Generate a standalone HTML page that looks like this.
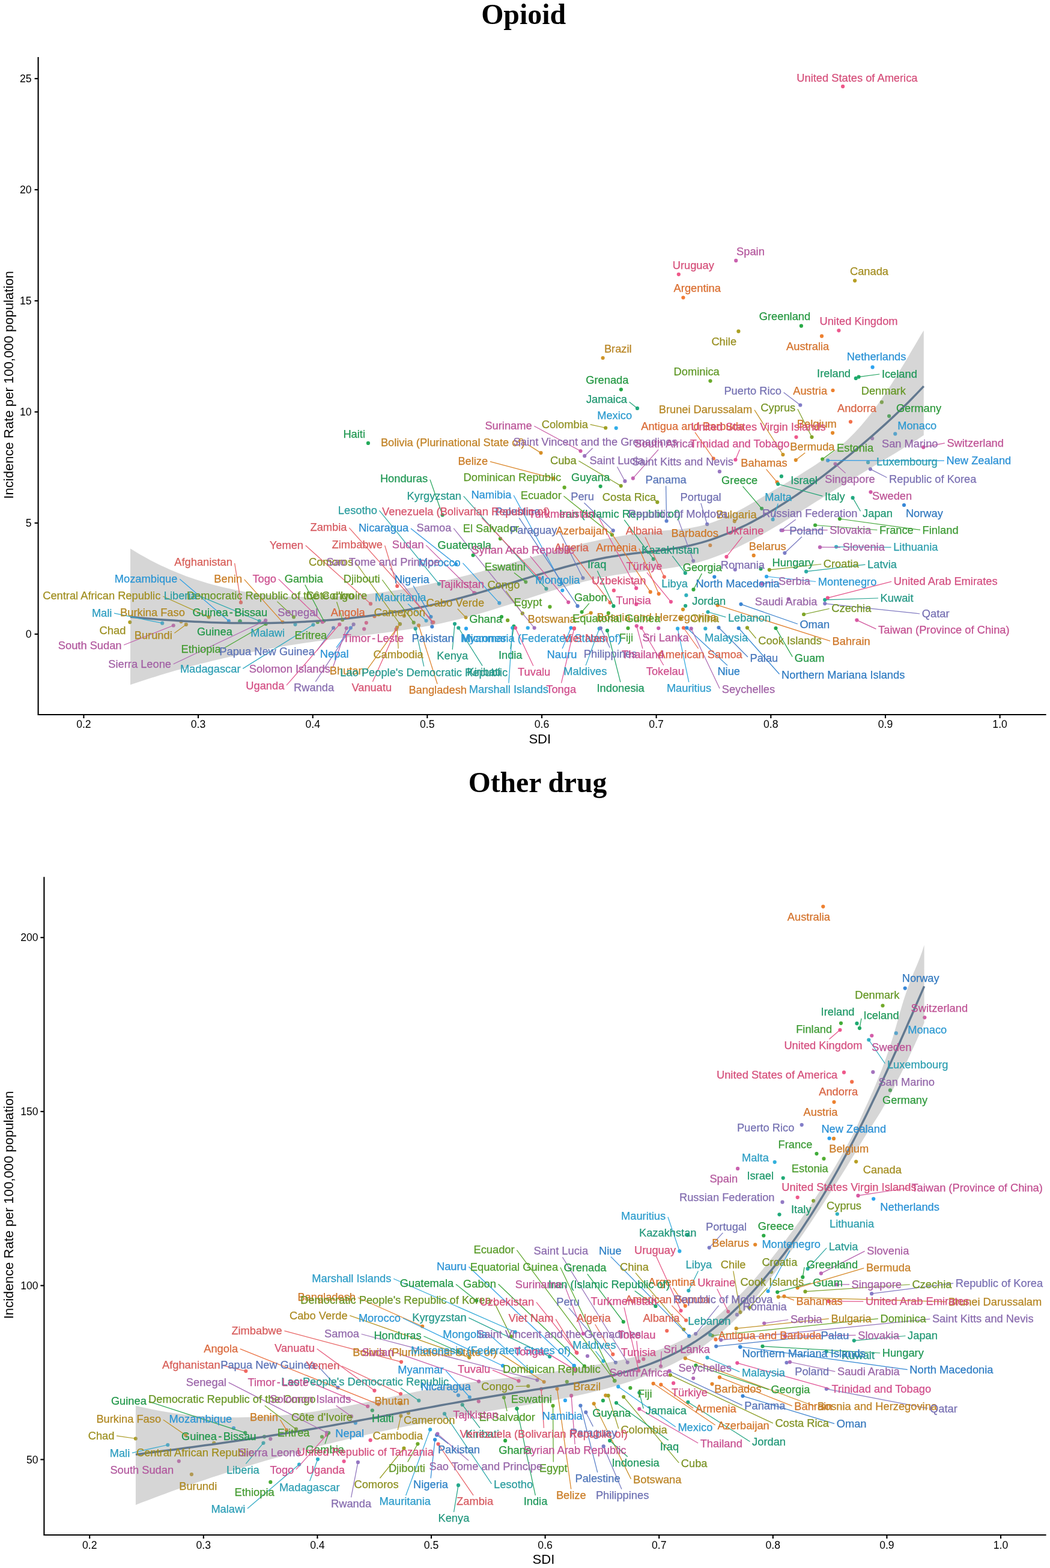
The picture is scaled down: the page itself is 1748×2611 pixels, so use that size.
<!DOCTYPE html>
<html lang="en"><head><meta charset="utf-8"><title>Opioid and other drug incidence vs SDI</title>
<style>html,body{margin:0;padding:0;background:#fff}body{width:1748px;height:2611px;overflow:hidden}svg{display:block;font-family:"Liberation Sans",sans-serif}</style></head><body>
<svg width="1748" height="2611" viewBox="0 0 1748 2611">
<rect width="1748" height="2611" fill="#fff"/>
<g>
<g><circle cx="401.0" cy="1003.2" r="3.1" fill="#f26962"/>
<circle cx="1105.8" cy="960.6" r="3.1" fill="#f26b5c"/>
<circle cx="1015.6" cy="1003.3" r="3.1" fill="#f36d56"/>
<circle cx="1138.0" cy="1045.5" r="3.1" fill="#f36e51"/>
<circle cx="1416.0" cy="702.3" r="3.1" fill="#f3704b"/>
<circle cx="623.4" cy="1026.2" r="3.1" fill="#f47443"/>
<circle cx="1187.7" cy="763.5" r="3.1" fill="#f4773a"/>
<circle cx="1137.4" cy="495.5" r="3.1" fill="#f47b34"/>
<circle cx="1096.7" cy="988.8" r="3.1" fill="#f17d32"/>
<circle cx="1368.0" cy="559.7" r="3.1" fill="#ee8030"/>
<circle cx="1386.5" cy="650.0" r="3.1" fill="#ed812f"/>
<circle cx="1082.7" cy="985.7" r="3.1" fill="#ec822e"/>
<circle cx="1293.6" cy="802.8" r="3.1" fill="#ea832e"/>
<circle cx="1194.6" cy="1007.7" r="3.1" fill="#e9852d"/>
<circle cx="697.0" cy="1041.3" r="3.1" fill="#e8862c"/>
<circle cx="1182.3" cy="908.0" r="3.1" fill="#e6872b"/>
<circle cx="1254.7" cy="924.9" r="3.1" fill="#e5882b"/>
<circle cx="1386.1" cy="720.8" r="3.1" fill="#e4892a"/>
<circle cx="921.6" cy="796.6" r="3.1" fill="#e38b29"/>
<circle cx="470.5" cy="1036.1" r="3.1" fill="#e18c28"/>
<circle cx="1324.8" cy="766.1" r="3.1" fill="#df8d28"/>
<circle cx="665.8" cy="1039.1" r="3.1" fill="#db8f28"/>
<circle cx="900.5" cy="754.1" r="3.1" fill="#d89028"/>
<circle cx="1137.0" cy="1014.8" r="3.1" fill="#d59228"/>
<circle cx="983.7" cy="1020.5" r="3.1" fill="#d29428"/>
<circle cx="1003.6" cy="596.0" r="3.1" fill="#cf9528"/>
<circle cx="1303.4" cy="757.0" r="3.1" fill="#cc9728"/>
<circle cx="1222.8" cy="868.1" r="3.1" fill="#c99827"/>
<circle cx="301.5" cy="1035.1" r="3.1" fill="#c69927"/>
<circle cx="309.8" cy="1039.9" r="3.1" fill="#c39a26"/>
<circle cx="775.5" cy="1028.1" r="3.1" fill="#c09b25"/>
<circle cx="661.0" cy="1044.8" r="3.1" fill="#bd9c25"/>
<circle cx="672.8" cy="1025.5" r="3.1" fill="#ba9e24"/>
<circle cx="1423.1" cy="467.3" r="3.1" fill="#b79f24"/>
<circle cx="347.6" cy="1027.4" r="3.1" fill="#b4a023"/>
<circle cx="216.3" cy="1036.1" r="3.1" fill="#b0a023"/>
<circle cx="1229.4" cy="551.7" r="3.1" fill="#aba124"/>
<circle cx="1132.9" cy="1029.5" r="3.1" fill="#a7a124"/>
<circle cx="1008.2" cy="712.5" r="3.1" fill="#a2a225"/>
<circle cx="665.8" cy="1039.2" r="3.1" fill="#9ea225"/>
<circle cx="869.8" cy="1021.4" r="3.1" fill="#9aa326"/>
<circle cx="1244.0" cy="1045.3" r="3.1" fill="#95a326"/>
<circle cx="1094.3" cy="836.2" r="3.1" fill="#91a427"/>
<circle cx="1280.8" cy="948.8" r="3.1" fill="#8ca427"/>
<circle cx="1033.7" cy="809.1" r="3.1" fill="#88a427"/>
<circle cx="1351.5" cy="727.8" r="3.1" fill="#83a528"/>
<circle cx="1338.1" cy="1023.0" r="3.1" fill="#80a628"/>
<circle cx="570.1" cy="1031.9" r="3.1" fill="#7ca629"/>
<circle cx="489.0" cy="1027.4" r="3.1" fill="#75a82a"/>
<circle cx="1467.9" cy="669.7" r="3.1" fill="#72a92a"/>
<circle cx="688.7" cy="1036.7" r="3.1" fill="#6eaa2a"/>
<circle cx="1182.5" cy="634.3" r="3.1" fill="#6aab2b"/>
<circle cx="939.6" cy="811.7" r="3.1" fill="#67ac2b"/>
<circle cx="1018.9" cy="890.6" r="3.1" fill="#63ad2c"/>
<circle cx="915.4" cy="1010.4" r="3.1" fill="#60ae2c"/>
<circle cx="832.9" cy="897.0" r="3.1" fill="#5cae2d"/>
<circle cx="1012.8" cy="1020.9" r="3.1" fill="#59af2e"/>
<circle cx="528.8" cy="1036.0" r="3.1" fill="#55af2f"/>
<circle cx="1369.2" cy="764.5" r="3.1" fill="#52ae31"/>
<circle cx="875.3" cy="969.1" r="3.1" fill="#4eae33"/>
<circle cx="442.6" cy="1039.0" r="3.1" fill="#4bad35"/>
<circle cx="1045.5" cy="1046.1" r="3.1" fill="#47ad36"/>
<circle cx="1397.9" cy="864.0" r="3.1" fill="#44ad38"/>
<circle cx="1357.1" cy="874.5" r="3.1" fill="#40ac3a"/>
<circle cx="968.6" cy="1019.0" r="3.1" fill="#3dac3c"/>
<circle cx="539.2" cy="1034.0" r="3.1" fill="#39ac3d"/>
<circle cx="1154.5" cy="981.7" r="3.1" fill="#36ab3f"/>
<circle cx="1480.1" cy="692.8" r="3.1" fill="#32ab41"/>
<circle cx="835.0" cy="1027.0" r="3.1" fill="#2eab43"/>
<circle cx="1268.1" cy="846.8" r="3.1" fill="#2baa45"/>
<circle cx="1333.9" cy="542.7" r="3.1" fill="#28aa46"/>
<circle cx="1033.9" cy="648.6" r="3.1" fill="#27aa49"/>
<circle cx="1291.5" cy="1046.0" r="3.1" fill="#26aa4c"/>
<circle cx="787.6" cy="924.5" r="3.1" fill="#26aa4f"/>
<circle cx="399.5" cy="1034.3" r="3.1" fill="#25aa52"/>
<circle cx="399.5" cy="1034.3" r="3.1" fill="#24aa55"/>
<circle cx="999.6" cy="809.8" r="3.1" fill="#24aa57"/>
<circle cx="612.9" cy="737.9" r="3.1" fill="#23aa5a"/>
<circle cx="736.6" cy="857.5" r="3.1" fill="#22aa5d"/>
<circle cx="1266.5" cy="947.2" r="3.1" fill="#22aa60"/>
<circle cx="1429.6" cy="627.6" r="3.1" fill="#21aa63"/>
<circle cx="855.4" cy="1042.9" r="3.1" fill="#20aa66"/>
<circle cx="1011.0" cy="1049.9" r="3.1" fill="#1faa68"/>
<circle cx="1087.8" cy="930.9" r="3.1" fill="#1faa6b"/>
<circle cx="1021.4" cy="1009.2" r="3.1" fill="#1eaa6e"/>
<circle cx="1424.8" cy="629.9" r="3.1" fill="#1faa72"/>
<circle cx="1300.9" cy="793.2" r="3.1" fill="#20aa76"/>
<circle cx="1295.2" cy="806.0" r="3.1" fill="#21aa7a"/>
<circle cx="1061.0" cy="679.9" r="3.1" fill="#22aa7e"/>
<circle cx="1419.6" cy="828.9" r="3.1" fill="#23aa82"/>
<circle cx="1141.1" cy="1008.8" r="3.1" fill="#24aa86"/>
<circle cx="1140.8" cy="954.2" r="3.1" fill="#25aa89"/>
<circle cx="757.0" cy="1038.8" r="3.1" fill="#26aa8d"/>
<circle cx="763.3" cy="1045.5" r="3.1" fill="#27aa91"/>
<circle cx="1373.2" cy="998.8" r="3.1" fill="#28aa95"/>
<circle cx="909.4" cy="980.4" r="3.1" fill="#29ab9b"/>
<circle cx="691.6" cy="1046.7" r="3.1" fill="#2aaca0"/>
<circle cx="1342.1" cy="951.7" r="3.1" fill="#2cada6"/>
<circle cx="1178.5" cy="1019.0" r="3.1" fill="#2daeac"/>
<circle cx="730.8" cy="972.3" r="3.1" fill="#2eafb1"/>
<circle cx="431.8" cy="1034.0" r="3.1" fill="#2fb0b7"/>
<circle cx="1142.4" cy="991.2" r="3.1" fill="#31b1bd"/>
<circle cx="1392.1" cy="910.5" r="3.1" fill="#32b2c2"/>
<circle cx="1445.1" cy="769.9" r="3.1" fill="#32b2c6"/>
<circle cx="521.4" cy="1040.3" r="3.1" fill="#32b1ca"/>
<circle cx="491.5" cy="1039.8" r="3.1" fill="#32b1cd"/>
<circle cx="1174.3" cy="1046.7" r="3.1" fill="#32b1d1"/>
<circle cx="997.7" cy="1046.7" r="3.1" fill="#32b1d5"/>
<circle cx="270.2" cy="1037.7" r="3.1" fill="#32b0d8"/>
<circle cx="1286.6" cy="864.9" r="3.1" fill="#32b0dc"/>
<circle cx="853.2" cy="1045.5" r="3.1" fill="#32b0e0"/>
<circle cx="709.5" cy="1033.5" r="3.1" fill="#32afe3"/>
<circle cx="1128.1" cy="1046.7" r="3.1" fill="#32afe7"/>
<circle cx="1025.7" cy="712.8" r="3.1" fill="#32aee9"/>
<circle cx="878.7" cy="1045.5" r="3.1" fill="#31adea"/>
<circle cx="1490.3" cy="722.4" r="3.1" fill="#31aceb"/>
<circle cx="936.3" cy="983.1" r="3.1" fill="#31aaec"/>
<circle cx="1276.1" cy="960.0" r="3.1" fill="#30a9ed"/>
<circle cx="831.3" cy="1004.2" r="3.1" fill="#30a8ee"/>
<circle cx="380.8" cy="1034.0" r="3.1" fill="#30a7ee"/>
<circle cx="776.0" cy="1046.7" r="3.1" fill="#2fa6ef"/>
<circle cx="934.6" cy="971.2" r="3.1" fill="#2fa5ef"/>
<circle cx="950.5" cy="1045.5" r="3.1" fill="#2ea4ef"/>
<circle cx="583.8" cy="1045.5" r="3.1" fill="#2ea4ef"/>
<circle cx="1452.6" cy="611.4" r="3.1" fill="#2da3f0"/>
<circle cx="1378.1" cy="766.7" r="3.1" fill="#2da1ef"/>
<circle cx="758.9" cy="939.4" r="3.1" fill="#2f9be9"/>
<circle cx="717.4" cy="1027.1" r="3.1" fill="#3191e0"/>
<circle cx="1143.4" cy="1045.5" r="3.1" fill="#318fde"/>
<circle cx="1189.3" cy="960.6" r="3.1" fill="#328cdc"/>
<circle cx="1229.7" cy="1046.0" r="3.1" fill="#358ad9"/>
<circle cx="1505.0" cy="841.0" r="3.1" fill="#3888d7"/>
<circle cx="1233.5" cy="1006.1" r="3.1" fill="#3b86d5"/>
<circle cx="719.3" cy="1043.5" r="3.1" fill="#4384d3"/>
<circle cx="1196.5" cy="1045.0" r="3.1" fill="#4e84d1"/>
<circle cx="961.5" cy="1009.2" r="3.1" fill="#5883cf"/>
<circle cx="1109.6" cy="867.5" r="3.1" fill="#6182ce"/>
<circle cx="555.1" cy="1045.5" r="3.1" fill="#6781cc"/>
<circle cx="970.4" cy="962.5" r="3.1" fill="#6d80cb"/>
<circle cx="1020.7" cy="883.4" r="3.1" fill="#747fc9"/>
<circle cx="999.9" cy="1046.1" r="3.1" fill="#797ec8"/>
<circle cx="1306.4" cy="920.8" r="3.1" fill="#7c7ec8"/>
<circle cx="1177.2" cy="872.9" r="3.1" fill="#7f7ec8"/>
<circle cx="1332.3" cy="674.5" r="3.1" fill="#827dc8"/>
<circle cx="1373.2" cy="1005.1" r="3.1" fill="#857dc8"/>
<circle cx="1448.9" cy="781.1" r="3.1" fill="#887dc8"/>
<circle cx="1154.2" cy="934.1" r="3.1" fill="#8b7cc7"/>
<circle cx="1223.8" cy="948.5" r="3.1" fill="#8e7bc6"/>
<circle cx="1300.6" cy="883.1" r="3.1" fill="#9279c4"/>
<circle cx="588.6" cy="1039.7" r="3.1" fill="#9578c3"/>
<circle cx="1197.9" cy="785.2" r="3.1" fill="#9877c2"/>
<circle cx="1040.4" cy="801.2" r="3.1" fill="#9c76c1"/>
<circle cx="973.2" cy="759.2" r="3.1" fill="#9f75c0"/>
<circle cx="889.6" cy="1045.6" r="3.1" fill="#a274bf"/>
<circle cx="1452.1" cy="730.1" r="3.1" fill="#a573be"/>
<circle cx="719.7" cy="1036.7" r="3.1" fill="#a871bd"/>
<circle cx="1312.6" cy="997.5" r="3.1" fill="#ab70bc"/>
<circle cx="536.6" cy="1035.6" r="3.1" fill="#ad6fbb"/>
<circle cx="1268.7" cy="972.4" r="3.1" fill="#b06dba"/>
<circle cx="1150.7" cy="1046.7" r="3.1" fill="#b36cb9"/>
<circle cx="442.1" cy="1033.2" r="3.1" fill="#b56bb9"/>
<circle cx="1390.5" cy="772.5" r="3.1" fill="#b86ab8"/>
<circle cx="1302.8" cy="883.1" r="3.1" fill="#bb68b7"/>
<circle cx="1365.0" cy="911.2" r="3.1" fill="#bd67b6"/>
<circle cx="576.8" cy="1046.1" r="3.1" fill="#c066b5"/>
<circle cx="1053.8" cy="796.4" r="3.1" fill="#c563b3"/>
<circle cx="288.7" cy="1041.5" r="3.1" fill="#c762b1"/>
<circle cx="1225.2" cy="433.9" r="3.1" fill="#ca61af"/>
<circle cx="1096.2" cy="1046.1" r="3.1" fill="#cc5fad"/>
<circle cx="789.3" cy="987.1" r="3.1" fill="#ce5eab"/>
<circle cx="966.5" cy="751.0" r="3.1" fill="#d15daa"/>
<circle cx="1449.5" cy="819.3" r="3.1" fill="#d35ca8"/>
<circle cx="1537.2" cy="744.7" r="3.1" fill="#d55ba6"/>
<circle cx="946.2" cy="1002.8" r="3.1" fill="#d85aa5"/>
<circle cx="1426.4" cy="1032.6" r="3.1" fill="#da59a3"/>
<circle cx="790.8" cy="987.9" r="3.1" fill="#dc59a2"/>
<circle cx="1059.8" cy="1042.3" r="3.1" fill="#df58a1"/>
<circle cx="606.2" cy="1047.4" r="3.1" fill="#e157a0"/>
<circle cx="537.1" cy="1035.4" r="3.1" fill="#e4579f"/>
<circle cx="1067.8" cy="1045.5" r="3.1" fill="#e6569e"/>
<circle cx="955.9" cy="1046.4" r="3.1" fill="#e8569c"/>
<circle cx="1224.4" cy="765.5" r="3.1" fill="#eb559b"/>
<circle cx="1059.2" cy="1006.2" r="3.1" fill="#eb559a"/>
<circle cx="1059.2" cy="979.4" r="3.1" fill="#ec5698"/>
<circle cx="858.0" cy="1045.5" r="3.1" fill="#ec5696"/>
<circle cx="1116.9" cy="1002.1" r="3.1" fill="#ec5695"/>
<circle cx="565.3" cy="1039.7" r="3.1" fill="#ed5793"/>
<circle cx="1209.4" cy="927.1" r="3.1" fill="#ed5791"/>
<circle cx="1377.9" cy="995.6" r="3.1" fill="#ee5890"/>
<circle cx="1396.4" cy="550.3" r="3.1" fill="#ee588e"/>
<circle cx="1325.5" cy="727.8" r="3.1" fill="#ef588b"/>
<circle cx="1403.1" cy="143.9" r="3.1" fill="#ef588a"/>
<circle cx="1129.8" cy="456.8" r="3.1" fill="#f05888"/>
<circle cx="1021.9" cy="983.2" r="3.1" fill="#f05985"/>
<circle cx="659.7" cy="1047.7" r="3.1" fill="#f05b7f"/>
<circle cx="897.9" cy="963.2" r="3.1" fill="#f05d79"/>
<circle cx="955.9" cy="1046.4" r="3.1" fill="#f05f73"/>
<circle cx="617.0" cy="1005.4" r="3.1" fill="#f0616f"/>
<circle cx="721.4" cy="1036.2" r="3.1" fill="#f1646b"/>
<circle cx="661.2" cy="976.0" r="3.1" fill="#f16666"/>
<circle cx="845.1" cy="1032.9" r="3.1" fill="#79a729"/>
<circle cx="609.8" cy="1037.1" r="3.1" fill="#ee588d"/></g>
<polygon points="217.0,913.5 225.2,918.6 233.4,923.4 241.8,928.1 250.1,932.7 258.5,937.0 267.0,941.2 275.5,945.1 284.1,948.9 292.7,952.6 301.3,956.1 310.0,959.4 318.8,962.5 327.5,965.5 336.4,968.3 345.2,971.0 354.1,973.5 363.0,975.8 372.0,978.0 381.0,980.1 390.0,982.0 399.1,983.7 408.1,985.4 417.2,986.8 426.4,988.2 435.5,989.4 444.7,990.4 453.9,991.4 463.1,992.2 472.4,992.9 481.6,993.4 490.9,993.8 500.2,994.1 509.5,994.3 518.8,994.4 528.1,994.4 537.5,994.2 546.8,993.9 556.1,993.6 565.5,993.1 574.8,992.5 584.2,991.8 593.5,991.0 602.9,990.1 612.2,989.2 621.6,988.1 630.9,986.9 640.2,985.7 649.6,984.3 658.9,982.9 668.2,981.4 677.5,979.8 686.8,978.2 696.0,976.4 705.3,974.6 714.5,972.7 723.7,970.7 732.9,968.7 742.0,966.6 751.2,964.5 760.3,962.3 769.4,960.0 778.4,957.7 787.5,955.3 796.5,952.9 805.5,950.4 814.5,947.9 823.5,945.4 832.4,942.9 841.4,940.3 850.3,937.8 859.3,935.2 868.2,932.6 877.2,930.1 886.1,927.5 895.0,925.0 904.0,922.5 912.9,920.0 921.9,917.6 930.9,915.2 939.9,912.8 948.9,910.5 957.9,908.3 967.0,906.1 976.1,904.0 985.2,901.9 994.3,899.9 1003.5,898.0 1012.6,896.2 1021.9,894.5 1031.1,892.9 1040.4,891.4 1049.7,890.0 1059.1,888.7 1068.4,887.5 1077.8,886.4 1087.1,885.4 1096.4,884.4 1105.7,883.6 1115.0,882.8 1124.2,882.1 1133.4,881.2 1142.5,880.1 1151.6,878.7 1160.5,877.0 1169.5,874.9 1178.3,872.4 1187.0,869.4 1195.7,866.2 1204.3,862.6 1212.9,858.7 1221.4,854.6 1229.8,850.2 1238.2,845.7 1246.5,841.1 1254.8,836.3 1263.1,831.5 1271.3,826.6 1279.5,821.7 1287.6,816.8 1295.7,812.0 1303.8,807.2 1311.8,802.4 1319.8,797.7 1327.7,792.9 1335.6,788.0 1343.4,783.1 1351.1,778.2 1358.8,773.2 1366.3,768.0 1373.7,762.7 1381.1,757.3 1388.3,751.8 1395.4,746.0 1402.3,740.1 1409.1,734.0 1415.8,727.6 1422.3,721.0 1428.6,714.2 1434.8,707.2 1440.9,700.0 1446.8,692.7 1452.6,685.2 1458.3,677.5 1463.9,669.8 1469.3,661.9 1474.7,654.0 1480.0,646.0 1485.1,637.9 1490.2,629.8 1495.2,621.7 1500.2,613.6 1505.1,605.5 1509.9,597.4 1514.6,589.3 1519.3,581.3 1524.0,573.4 1528.6,565.6 1533.2,557.8 1537.8,550.2 1537.8,724.7 1530.2,729.7 1522.5,734.6 1514.9,739.4 1507.4,744.1 1499.8,748.8 1492.3,753.4 1484.8,758.0 1477.3,762.5 1469.8,767.0 1462.4,771.5 1454.9,776.0 1447.5,780.4 1440.1,784.9 1432.7,789.4 1425.2,793.9 1417.8,798.4 1410.4,802.9 1403.0,807.5 1395.6,812.2 1388.2,816.8 1380.7,821.5 1373.3,826.2 1365.9,830.9 1358.4,835.6 1350.9,840.3 1343.4,845.0 1335.9,849.7 1328.4,854.4 1320.8,859.0 1313.2,863.7 1305.6,868.3 1298.0,872.9 1290.3,877.5 1282.6,882.0 1274.9,886.5 1267.1,890.9 1259.3,895.2 1251.5,899.4 1243.6,903.6 1235.6,907.6 1227.7,911.5 1219.7,915.3 1211.6,918.9 1203.5,922.3 1195.3,925.6 1187.1,928.6 1178.9,931.5 1170.6,934.1 1162.2,936.5 1153.8,938.6 1145.3,940.5 1136.8,942.2 1128.2,943.8 1119.6,945.2 1111.0,946.4 1102.3,947.6 1093.6,948.6 1084.9,949.7 1076.2,950.7 1067.5,951.7 1058.8,952.7 1050.1,953.8 1041.3,954.9 1032.7,956.2 1024.0,957.5 1015.3,959.1 1006.7,960.7 998.1,962.5 989.5,964.4 980.9,966.4 972.4,968.5 963.9,970.8 955.3,973.1 946.8,975.4 938.3,977.9 929.8,980.4 921.3,983.0 912.9,985.6 904.4,988.3 895.9,991.0 887.5,993.7 879.0,996.4 870.6,999.2 862.1,1001.9 853.7,1004.7 845.2,1007.4 836.8,1010.1 828.3,1012.8 819.9,1015.4 811.4,1018.0 802.9,1020.5 794.4,1023.0 785.9,1025.4 777.4,1027.7 768.9,1030.0 760.3,1032.1 751.8,1034.1 743.2,1036.1 734.6,1037.9 726.0,1039.7 717.4,1041.4 708.8,1043.0 700.2,1044.5 691.5,1046.0 682.9,1047.4 674.2,1048.8 665.5,1050.1 656.9,1051.3 648.2,1052.5 639.5,1053.7 630.8,1054.8 622.1,1056.0 613.3,1057.1 604.6,1058.1 595.9,1059.2 587.2,1060.3 578.4,1061.3 569.7,1062.4 561.0,1063.5 552.2,1064.6 543.5,1065.7 534.7,1066.9 526.0,1068.1 517.3,1069.3 508.5,1070.5 499.8,1071.8 491.1,1073.2 482.3,1074.6 473.6,1076.0 464.9,1077.5 456.2,1079.0 447.5,1080.6 438.8,1082.2 430.1,1083.8 421.4,1085.5 412.7,1087.3 404.1,1089.1 395.4,1090.9 386.8,1092.8 378.1,1094.7 369.5,1096.7 360.9,1098.7 352.3,1100.8 343.7,1102.9 335.1,1105.1 326.6,1107.3 318.0,1109.6 309.5,1111.9 301.0,1114.2 292.5,1116.6 284.1,1119.0 275.6,1121.5 267.2,1124.1 258.8,1126.7 250.4,1129.3 242.0,1132.0 233.6,1134.7 225.3,1137.5 217.0,1140.3" fill="#999999" fill-opacity="0.4"/>
<polyline points="217.0,1027.3 225.9,1028.1 234.8,1028.9 243.8,1029.7 252.7,1030.5 261.6,1031.2 270.6,1031.9 279.5,1032.5 288.5,1033.1 297.4,1033.7 306.4,1034.2 315.3,1034.7 324.3,1035.2 333.2,1035.6 342.2,1036.0 351.1,1036.4 360.1,1036.7 369.0,1036.9 378.0,1037.2 386.9,1037.4 395.9,1037.5 404.8,1037.6 413.8,1037.6 422.7,1037.7 431.7,1037.6 440.6,1037.5 449.6,1037.4 458.5,1037.2 467.4,1037.0 476.4,1036.7 485.3,1036.4 494.2,1036.0 503.1,1035.6 512.1,1035.1 521.0,1034.6 529.9,1034.0 538.8,1033.3 547.7,1032.6 556.6,1031.9 565.5,1031.1 574.4,1030.2 583.2,1029.3 592.1,1028.3 601.0,1027.3 609.8,1026.2 618.7,1025.0 627.5,1023.8 636.3,1022.5 645.2,1021.2 654.0,1019.8 662.8,1018.3 671.6,1016.7 680.4,1015.1 689.2,1013.5 697.9,1011.7 706.7,1009.9 715.5,1008.1 724.2,1006.1 732.9,1004.1 741.6,1002.0 750.4,999.9 759.1,997.6 767.7,995.4 776.4,993.0 785.1,990.6 793.7,988.1 802.4,985.6 811.0,983.0 819.7,980.4 828.3,977.8 836.9,975.2 845.5,972.5 854.2,969.8 862.8,967.2 871.4,964.5 880.0,961.9 888.6,959.2 897.2,956.7 905.9,954.1 914.5,951.6 923.1,949.1 931.7,946.7 940.4,944.3 949.0,942.0 957.7,939.8 966.3,937.6 975.0,935.6 983.7,933.6 992.4,931.7 1001.1,930.0 1009.8,928.3 1018.6,926.8 1027.3,925.4 1036.1,924.1 1044.9,922.9 1053.7,921.8 1062.5,920.8 1071.3,919.8 1080.1,918.8 1088.9,917.7 1097.7,916.7 1106.5,915.5 1115.2,914.3 1124.0,913.0 1132.7,911.5 1141.4,909.8 1150.1,908.0 1158.7,905.9 1167.4,903.6 1175.9,901.1 1184.5,898.4 1193.0,895.4 1201.4,892.2 1209.8,888.9 1218.2,885.3 1226.5,881.6 1234.7,877.7 1242.9,873.7 1251.0,869.6 1259.1,865.3 1267.0,860.9 1274.9,856.4 1282.7,851.9 1290.5,847.2 1298.1,842.5 1305.7,837.7 1313.2,832.9 1320.7,827.9 1328.0,823.0 1335.3,817.9 1342.6,812.8 1349.8,807.7 1357.0,802.4 1364.1,797.2 1371.1,791.8 1378.2,786.4 1385.1,781.0 1392.1,775.5 1399.1,770.0 1406.0,764.4 1412.9,758.8 1419.8,753.1 1426.6,747.4 1433.5,741.6 1440.3,735.8 1447.1,730.0 1453.9,724.1 1460.6,718.1 1467.3,712.1 1474.0,706.1 1480.6,700.0 1487.2,693.9 1493.7,687.7 1500.2,681.5 1506.6,675.2 1513.0,668.9 1519.3,662.5 1525.5,656.1 1531.7,649.6 1537.8,643.1" fill="none" stroke="#62788f" stroke-width="3.5" stroke-linejoin="round"/>
<g stroke-width="1.25" stroke-linecap="butt"><line x1="390.6" y1="937.8" x2="401.0" y2="1003.2" stroke="#e8655e"/>
<line x1="1073.9" y1="894.3" x2="1105.8" y2="960.6" stroke="#e96659"/>
<line x1="954.1" y1="921.7" x2="1015.6" y2="1003.3" stroke="#e96853"/>
<line x1="1162.6" y1="1080.0" x2="1138.0" y2="1045.5" stroke="#e96a4d"/>
<line x1="1157.0" y1="719.9" x2="1187.7" y2="763.5" stroke="#eb7238"/>
<line x1="1064.0" y1="913.5" x2="1096.7" y2="988.8" stroke="#e87830"/>
<line x1="1015.7" y1="884.4" x2="1082.7" y2="985.7" stroke="#e27d2d"/>
<line x1="1275.6" y1="781.4" x2="1293.6" y2="802.8" stroke="#e17e2c"/>
<line x1="1382.0" y1="1067.4" x2="1194.6" y2="1007.7" stroke="#e07f2b"/>
<line x1="728.1" y1="1139.0" x2="697.0" y2="1041.3" stroke="#de802a"/>
<line x1="815.9" y1="768.7" x2="921.6" y2="796.6" stroke="#da8527"/>
<line x1="406.7" y1="964.8" x2="470.5" y2="1036.1" stroke="#d88627"/>
<line x1="1340.2" y1="754.0" x2="1324.8" y2="766.1" stroke="#d68826"/>
<line x1="610.3" y1="1116.2" x2="665.8" y2="1039.1" stroke="#d38926"/>
<line x1="877.6" y1="739.8" x2="900.5" y2="754.1" stroke="#d08b26"/>
<line x1="962.4" y1="1028.7" x2="983.7" y2="1020.5" stroke="#c98e26"/>
<line x1="1256.0" y1="682.7" x2="1303.4" y2="757.0" stroke="#c39126"/>
<line x1="290.4" y1="1054.2" x2="309.8" y2="1039.9" stroke="#bb9424"/>
<line x1="761.7" y1="1013.8" x2="775.5" y2="1028.1" stroke="#b89524"/>
<line x1="663.1" y1="1080.0" x2="661.0" y2="1044.8" stroke="#b59623"/>
<line x1="271.2" y1="993.0" x2="347.6" y2="1027.4" stroke="#ad9a22"/>
<line x1="982.6" y1="706.9" x2="1008.2" y2="712.5" stroke="#9c9b23"/>
<line x1="591.8" y1="936.5" x2="665.8" y2="1039.2" stroke="#989c24"/>
<line x1="842.2" y1="984.1" x2="869.8" y2="1021.4" stroke="#939c24"/>
<line x1="1258.6" y1="1063.0" x2="1244.0" y2="1045.3" stroke="#8f9d25"/>
<line x1="1367.2" y1="939.5" x2="1280.8" y2="948.8" stroke="#879d25"/>
<line x1="963.4" y1="767.5" x2="1033.7" y2="809.1" stroke="#829e26"/>
<line x1="1327.9" y1="681.3" x2="1351.5" y2="727.8" stroke="#7e9e26"/>
<line x1="1380.7" y1="1013.5" x2="1338.1" y2="1023.0" stroke="#7b9f27"/>
<line x1="560.5" y1="1002.3" x2="570.1" y2="1031.9" stroke="#77a027"/>
<line x1="461.4" y1="1001.6" x2="489.0" y2="1027.4" stroke="#70a228"/>
<line x1="636.3" y1="965.5" x2="688.7" y2="1036.7" stroke="#6aa329"/>
<line x1="938.4" y1="826.0" x2="1018.9" y2="890.6" stroke="#5fa62a"/>
<line x1="1389.5" y1="749.6" x2="1369.2" y2="764.5" stroke="#4ea72f"/>
<line x1="855.9" y1="953.8" x2="875.3" y2="969.1" stroke="#4ba731"/>
<line x1="371.2" y1="1080.2" x2="442.6" y2="1039.0" stroke="#48a733"/>
<line x1="1532.0" y1="882.4" x2="1397.9" y2="864.0" stroke="#41a636"/>
<line x1="1460.3" y1="882.5" x2="1357.1" y2="874.5" stroke="#3ea638"/>
<line x1="980.9" y1="1004.7" x2="968.6" y2="1019.0" stroke="#3aa539"/>
<line x1="507.7" y1="973.6" x2="539.2" y2="1034.0" stroke="#37a53b"/>
<line x1="1168.4" y1="954.9" x2="1154.5" y2="981.7" stroke="#33a43d"/>
<line x1="1236.5" y1="809.8" x2="1268.1" y2="846.8" stroke="#29a342"/>
<line x1="1319.2" y1="1093.6" x2="1291.5" y2="1046.0" stroke="#25a349"/>
<line x1="715.9" y1="798.6" x2="736.6" y2="857.5" stroke="#21a359"/>
<line x1="1464.3" y1="623.0" x2="1429.6" y2="627.6" stroke="#20a35f"/>
<line x1="849.8" y1="1080.7" x2="855.4" y2="1042.9" stroke="#1fa361"/>
<line x1="1032.9" y1="1135.8" x2="1011.0" y2="1049.9" stroke="#1ea364"/>
<line x1="1039.2" y1="865.6" x2="1087.8" y2="930.9" stroke="#1da367"/>
<line x1="994.4" y1="950.4" x2="1021.4" y2="1009.2" stroke="#1da36a"/>
<line x1="1369.4" y1="826.2" x2="1295.2" y2="806.0" stroke="#20a375"/>
<line x1="1047.6" y1="669.3" x2="1061.0" y2="679.9" stroke="#21a379"/>
<line x1="1432.5" y1="851.3" x2="1419.6" y2="828.9" stroke="#22a37c"/>
<line x1="1119.2" y1="925.6" x2="1140.8" y2="954.2" stroke="#23a384"/>
<line x1="753.2" y1="1081.6" x2="757.0" y2="1038.8" stroke="#24a388"/>
<line x1="803.1" y1="1108.7" x2="763.3" y2="1045.5" stroke="#25a38b"/>
<line x1="1462.0" y1="996.0" x2="1373.2" y2="998.8" stroke="#26a38f"/>
<line x1="771.7" y1="826.2" x2="909.4" y2="980.4" stroke="#27a494"/>
<line x1="705.7" y1="1109.7" x2="691.6" y2="1046.7" stroke="#29a59a"/>
<line x1="1440.5" y1="940.1" x2="1342.1" y2="951.7" stroke="#2aa69f"/>
<line x1="1208.3" y1="1027.6" x2="1178.5" y2="1019.0" stroke="#2ba7a5"/>
<line x1="631.5" y1="850.2" x2="730.8" y2="972.3" stroke="#2ca8aa"/>
<line x1="331.3" y1="992.1" x2="431.8" y2="1034.0" stroke="#2da9b0"/>
<line x1="1483.6" y1="911.3" x2="1392.1" y2="910.5" stroke="#30abba"/>
<line x1="404.2" y1="1113.4" x2="521.4" y2="1040.3" stroke="#30aac2"/>
<line x1="975.1" y1="1108.1" x2="997.7" y2="1046.7" stroke="#30aacc"/>
<line x1="190.0" y1="1021.2" x2="270.2" y2="1037.7" stroke="#30a9d0"/>
<line x1="1295.3" y1="838.5" x2="1286.6" y2="864.9" stroke="#30a9d3"/>
<line x1="846.9" y1="1137.4" x2="853.2" y2="1045.5" stroke="#30a9d7"/>
<line x1="679.1" y1="1005.5" x2="709.5" y2="1033.5" stroke="#30a8da"/>
<line x1="1146.8" y1="1135.8" x2="1128.1" y2="1046.7" stroke="#30a8de"/>
<line x1="1358.2" y1="968.5" x2="1276.1" y2="960.0" stroke="#2ea2e3"/>
<line x1="770.5" y1="937.7" x2="831.3" y2="1004.2" stroke="#2ea1e4"/>
<line x1="299.2" y1="964.3" x2="380.8" y2="1034.0" stroke="#2ea0e5"/>
<line x1="855.1" y1="824.7" x2="934.6" y2="971.2" stroke="#2d9fe5"/>
<line x1="936.1" y1="1080.0" x2="950.5" y2="1045.5" stroke="#2c9ee6"/>
<line x1="559.9" y1="1078.4" x2="583.8" y2="1045.5" stroke="#2c9de6"/>
<line x1="1571.9" y1="767.1" x2="1378.1" y2="766.7" stroke="#2b9ae5"/>
<line x1="683.9" y1="879.9" x2="758.9" y2="939.4" stroke="#2d94df"/>
<line x1="688.1" y1="975.2" x2="717.4" y2="1027.1" stroke="#2f8cd7"/>
<line x1="1211.0" y1="1108.1" x2="1143.4" y2="1045.5" stroke="#2f89d5"/>
<line x1="1297.5" y1="1122.5" x2="1229.7" y2="1046.0" stroke="#3384d1"/>
<line x1="1327.8" y1="1039.0" x2="1233.5" y2="1006.1" stroke="#3980cc"/>
<line x1="1244.9" y1="1094.0" x2="1196.5" y2="1045.0" stroke="#4a7ec9"/>
<line x1="864.2" y1="862.3" x2="961.5" y2="1009.2" stroke="#547dc7"/>
<line x1="1108.6" y1="809.2" x2="1109.6" y2="867.5" stroke="#5d7dc5"/>
<line x1="527.6" y1="1083.3" x2="555.1" y2="1045.5" stroke="#637cc4"/>
<line x1="931.1" y1="884.2" x2="970.4" y2="962.5" stroke="#697bc2"/>
<line x1="972.4" y1="837.2" x2="1020.7" y2="883.4" stroke="#6f7ac1"/>
<line x1="1015.3" y1="1078.4" x2="999.9" y2="1046.1" stroke="#7479c0"/>
<line x1="1335.0" y1="893.7" x2="1306.4" y2="920.8" stroke="#7779c0"/>
<line x1="1166.8" y1="837.9" x2="1177.2" y2="872.9" stroke="#7a79c0"/>
<line x1="1304.6" y1="653.4" x2="1332.3" y2="674.5" stroke="#7d78c0"/>
<line x1="1531.2" y1="1022.0" x2="1373.2" y2="1005.1" stroke="#7f78c0"/>
<line x1="1476.5" y1="795.2" x2="1448.9" y2="781.1" stroke="#8278c0"/>
<line x1="1129.4" y1="865.6" x2="1154.2" y2="934.1" stroke="#8677bf"/>
<line x1="1324.7" y1="865.0" x2="1300.6" y2="883.1" stroke="#8c75bd"/>
<line x1="525.3" y1="1135.2" x2="588.6" y2="1039.7" stroke="#8f74bc"/>
<line x1="1027.5" y1="777.3" x2="1040.4" y2="801.2" stroke="#9571b9"/>
<line x1="986.6" y1="746.2" x2="973.2" y2="759.2" stroke="#9970b8"/>
<line x1="755.1" y1="879.7" x2="889.6" y2="1045.6" stroke="#9c6fb7"/>
<line x1="649.3" y1="945.8" x2="719.7" y2="1036.7" stroke="#a16db5"/>
<line x1="1292.5" y1="968.2" x2="1268.7" y2="972.4" stroke="#a969b3"/>
<line x1="1198.1" y1="1146.6" x2="1150.7" y2="1046.7" stroke="#ac68b2"/>
<line x1="288.7" y1="1105.7" x2="442.1" y2="1033.2" stroke="#ae67b1"/>
<line x1="1407.6" y1="787.9" x2="1390.5" y2="772.5" stroke="#b165b0"/>
<line x1="1377.7" y1="882.6" x2="1302.8" y2="883.1" stroke="#b364af"/>
<line x1="1399.1" y1="911.3" x2="1365.0" y2="911.2" stroke="#b663af"/>
<line x1="553.6" y1="1112.7" x2="576.8" y2="1046.1" stroke="#b861ae"/>
<line x1="1096.1" y1="748.6" x2="1053.8" y2="796.4" stroke="#bd5fab"/>
<line x1="206.2" y1="1074.0" x2="288.7" y2="1041.5" stroke="#bf5eaa"/>
<line x1="709.2" y1="907.9" x2="789.3" y2="987.1" stroke="#c65ba5"/>
<line x1="889.3" y1="709.5" x2="966.5" y2="751.0" stroke="#c859a3"/>
<line x1="1572.8" y1="737.8" x2="1537.2" y2="744.7" stroke="#cd57a0"/>
<line x1="882.7" y1="926.1" x2="946.2" y2="1002.8" stroke="#cf569e"/>
<line x1="1458.5" y1="1047.4" x2="1426.4" y2="1032.6" stroke="#d1569d"/>
<line x1="1069.9" y1="1080.0" x2="1059.8" y2="1042.3" stroke="#d6559b"/>
<line x1="463.7" y1="964.4" x2="537.1" y2="1035.4" stroke="#da5398"/>
<line x1="1104.7" y1="1107.8" x2="1067.8" y2="1045.5" stroke="#dd5397"/>
<line x1="934.5" y1="1137.4" x2="955.9" y2="1046.4" stroke="#df5296"/>
<line x1="1231.5" y1="748.6" x2="1224.4" y2="765.5" stroke="#e15295"/>
<line x1="993.8" y1="856.2" x2="1059.2" y2="979.4" stroke="#e25292"/>
<line x1="887.8" y1="1108.7" x2="858.0" y2="1045.5" stroke="#e35390"/>
<line x1="1077.0" y1="953.3" x2="1116.9" y2="1002.1" stroke="#e3538f"/>
<line x1="477.0" y1="1141.1" x2="565.3" y2="1039.7" stroke="#e3538d"/>
<line x1="1235.7" y1="893.7" x2="1209.4" y2="927.1" stroke="#e4548c"/>
<line x1="1484.2" y1="968.4" x2="1377.9" y2="995.6" stroke="#e4548a"/>
<line x1="620.4" y1="1135.2" x2="659.7" y2="1047.7" stroke="#e6577a"/>
<line x1="802.1" y1="862.3" x2="897.9" y2="963.2" stroke="#e65974"/>
<line x1="508.7" y1="908.3" x2="617.0" y2="1005.4" stroke="#e75e6a"/>
<line x1="581.2" y1="878.8" x2="721.4" y2="1036.2" stroke="#e76066"/>
<line x1="640.6" y1="908.4" x2="661.2" y2="976.0" stroke="#e86262"/></g>
<g font-size="18.30px" stroke-width="0.25" stroke-linejoin="round"><text x="290.3" y="942.4" fill="#d75d57" stroke="#d75d57">Afghanistan</text>
<text x="1041.7" y="890.2" fill="#d85f52" stroke="#d85f52">Albania</text>
<text x="923.0" y="917.6" fill="#d8614d" stroke="#d8614d">Algeria</text>
<text x="1095.5" y="1096.2" fill="#d86248" stroke="#d86248">American Samoa</text>
<text x="1394.0" y="685.5" fill="#d86443" stroke="#d86443">Andorra</text>
<text x="550.7" y="1026.2" fill="#d9673b" stroke="#d9673b">Angola</text>
<text x="1067.2" y="715.8" fill="#da6a34" stroke="#da6a34">Antigua and Barbuda</text>
<text x="1121.6" y="485.7" fill="#da6d2e" stroke="#da6d2e">Argentina</text>
<text x="992.2" y="918.3" fill="#d76f2c" stroke="#d76f2c">Armenia</text>
<text x="1309.1" y="582.7" fill="#d4722b" stroke="#d4722b">Australia</text>
<text x="1320.2" y="656.7" fill="#d3732a" stroke="#d3732a">Austria</text>
<text x="925.6" y="889.6" fill="#d27429" stroke="#d27429">Azerbaijan</text>
<text x="1233.3" y="777.3" fill="#d07529" stroke="#d07529">Bahamas</text>
<text x="1385.6" y="1073.8" fill="#cf7628" stroke="#cf7628">Bahrain</text>
<text x="680.4" y="1155.2" fill="#ce7727" stroke="#ce7727">Bangladesh</text>
<text x="1117.6" y="894.3" fill="#cd7827" stroke="#cd7827">Barbados</text>
<text x="1246.7" y="915.7" fill="#cc7926" stroke="#cc7926">Belarus</text>
<text x="1326.8" y="712.0" fill="#cb7a25" stroke="#cb7a25">Belgium</text>
<text x="762.4" y="774.3" fill="#ca7b24" stroke="#ca7b24">Belize</text>
<text x="356.3" y="969.8" fill="#c97c24" stroke="#c97c24">Benin</text>
<text x="1315.3" y="749.9" fill="#c67e24" stroke="#c67e24">Bermuda</text>
<text x="548.7" y="1123.3" fill="#c37f24" stroke="#c37f24">Bhutan</text>
<text x="633.9" y="743.0" fill="#c08124" stroke="#c08124">Bolivia (Plurinational State of)</text>
<text x="993.5" y="1034.0" fill="#be8224" stroke="#be8224">Bosnia and Herzegovina</text>
<text x="878.5" y="1036.8" fill="#bb8324" stroke="#bb8324">Botswana</text>
<text x="1005.9" y="586.5" fill="#b88524" stroke="#b88524">Brazil</text>
<text x="1096.7" y="687.6" fill="#b58623" stroke="#b58623">Brunei Darussalam</text>
<text x="1192.5" y="862.5" fill="#b38723" stroke="#b38723">Bulgaria</text>
<text x="200.1" y="1026.2" fill="#b08822" stroke="#b08822">Burkina Faso</text>
<text x="223.7" y="1063.5" fill="#ad8922" stroke="#ad8922">Burundi</text>
<text x="709.5" y="1009.7" fill="#ab8a21" stroke="#ab8a21">Cabo Verde</text>
<text x="621.4" y="1096.2" fill="#a88b21" stroke="#a88b21">Cambodia</text>
<text x="622.7" y="1026.2" fill="#a58c20" stroke="#a58c20">Cameroon</text>
<text x="1415.0" y="458.0" fill="#a38d20" stroke="#a38d20">Canada</text>
<text x="71.2" y="998.2" fill="#a08e1f" stroke="#a08e1f">Central African Republic</text>
<text x="165.6" y="1055.6" fill="#9c8f20" stroke="#9c8f20">Chad</text>
<text x="1184.4" y="575.3" fill="#988f20" stroke="#988f20">Chile</text>
<text x="1149.1" y="1035.6" fill="#949020" stroke="#949020">China</text>
<text x="901.7" y="712.6" fill="#909021" stroke="#909021">Colombia</text>
<text x="514.0" y="941.7" fill="#8d9021" stroke="#8d9021">Comoros</text>
<text x="811.5" y="980.0" fill="#899122" stroke="#899122">Congo</text>
<text x="1262.2" y="1072.8" fill="#859122" stroke="#859122">Cook Islands</text>
<text x="1002.8" y="833.8" fill="#819222" stroke="#819222">Costa Rica</text>
<text x="1370.8" y="945.4" fill="#7d9223" stroke="#7d9223">Croatia</text>
<text x="916.0" y="772.5" fill="#799223" stroke="#799223">Cuba</text>
<text x="1266.3" y="685.4" fill="#759323" stroke="#759323">Cyprus</text>
<text x="1384.3" y="1018.9" fill="#729324" stroke="#729324">Czechia</text>
<text x="509.2" y="998.2" fill="#6e9424" stroke="#6e9424">Côte d'Ivoire</text>
<text x="311.0" y="997.5" fill="#689625" stroke="#689625">Democratic Republic of the Congo</text>
<text x="1433.7" y="657.0" fill="#659725" stroke="#659725">Denmark</text>
<text x="571.7" y="970.4" fill="#629726" stroke="#629726">Djibouti</text>
<text x="1121.6" y="625.4" fill="#5f9826" stroke="#5f9826">Dominica</text>
<text x="771.6" y="801.4" fill="#5c9927" stroke="#5c9927">Dominican Republic</text>
<text x="866.7" y="831.1" fill="#589a27" stroke="#589a27">Ecuador</text>
<text x="855.5" y="1008.7" fill="#559a27" stroke="#559a27">Egypt</text>
<text x="770.7" y="885.9" fill="#529b28" stroke="#529b28">El Salvador</text>
<text x="953.0" y="1036.3" fill="#4f9c29" stroke="#4f9c29">Equatorial Guinea</text>
<text x="490.4" y="1063.9" fill="#4c9b2a" stroke="#4c9b2a">Eritrea</text>
<text x="1393.1" y="752.4" fill="#499b2c" stroke="#499b2c">Estonia</text>
<text x="806.7" y="949.7" fill="#469b2d" stroke="#469b2d">Eswatini</text>
<text x="301.5" y="1087.3" fill="#429a2f" stroke="#429a2f">Ethiopia</text>
<text x="1030.8" y="1068.2" fill="#3f9a30" stroke="#3f9a30">Fiji</text>
<text x="1535.6" y="888.6" fill="#3c9a32" stroke="#3c9a32">Finland</text>
<text x="1463.9" y="888.6" fill="#399934" stroke="#399934">France</text>
<text x="955.9" y="1000.6" fill="#369935" stroke="#369935">Gabon</text>
<text x="473.7" y="969.5" fill="#339937" stroke="#339937">Gambia</text>
<text x="1136.7" y="950.8" fill="#309938" stroke="#309938">Georgia</text>
<text x="1491.9" y="685.5" fill="#2c983a" stroke="#2c983a">Germany</text>
<text x="781.2" y="1037.4" fill="#29983b" stroke="#29983b">Ghana</text>
<text x="1201.1" y="805.7" fill="#26983d" stroke="#26983d">Greece</text>
<text x="1263.8" y="532.9" fill="#23973f" stroke="#23973f">Greenland</text>
<text x="975.3" y="639.1" fill="#239741" stroke="#239741">Grenada</text>
<text x="1322.8" y="1101.5" fill="#229744" stroke="#229744">Guam</text>
<text x="728.6" y="913.7" fill="#229746" stroke="#229746">Guatemala</text>
<text x="327.9" y="1058.1" fill="#219749" stroke="#219749">Guinea</text>
<text x="320.6" y="1025.6" fill="#20974b" stroke="#20974b">Guinea<tspan dx="2.30">-</tspan><tspan dx="2.30">Bissau</tspan></text>
<text x="951.1" y="801.2" fill="#20974e" stroke="#20974e">Guyana</text>
<text x="571.4" y="728.7" fill="#1f9750" stroke="#1f9750">Haiti</text>
<text x="632.9" y="803.0" fill="#1e9753" stroke="#1e9753">Honduras</text>
<text x="1285.6" y="943.1" fill="#1e9755" stroke="#1e9755">Hungary</text>
<text x="1467.9" y="629.0" fill="#1d9758" stroke="#1d9758">Iceland</text>
<text x="829.9" y="1096.9" fill="#1d975a" stroke="#1d975a">India</text>
<text x="993.5" y="1152.0" fill="#1c975d" stroke="#1c975d">Indonesia</text>
<text x="931.0" y="861.5" fill="#1b975f" stroke="#1b975f">Iran (Islamic Republic of)</text>
<text x="977.9" y="946.3" fill="#1b9762" stroke="#1b9762">Iraq</text>
<text x="1360.1" y="628.0" fill="#1c9765" stroke="#1c9765">Ireland</text>
<text x="1316.2" y="806.0" fill="#1c9769" stroke="#1c9769">Israel</text>
<text x="1373.0" y="832.8" fill="#1d976c" stroke="#1d976c">Italy</text>
<text x="975.9" y="671.0" fill="#1e9770" stroke="#1e9770">Jamaica</text>
<text x="1436.1" y="860.9" fill="#1f9773" stroke="#1f9773">Japan</text>
<text x="1152.3" y="1006.9" fill="#209777" stroke="#209777">Jordan</text>
<text x="1068.1" y="921.5" fill="#21977a" stroke="#21977a">Kazakhstan</text>
<text x="727.3" y="1097.8" fill="#22977e" stroke="#22977e">Kenya</text>
<text x="777.6" y="1124.9" fill="#239781" stroke="#239781">Kiribati</text>
<text x="1465.6" y="1002.0" fill="#239785" stroke="#239785">Kuwait</text>
<text x="677.6" y="831.7" fill="#24988a" stroke="#24988a">Kyrgyzstan</text>
<text x="566.3" y="1125.9" fill="#26998f" stroke="#26998f">Lao People's Democratic Republic</text>
<text x="1444.1" y="946.0" fill="#279a94" stroke="#279a94">Latvia</text>
<text x="1211.9" y="1034.7" fill="#289b99" stroke="#289b99">Lebanon</text>
<text x="562.8" y="855.6" fill="#299c9e" stroke="#299c9e">Lesotho</text>
<text x="272.8" y="997.5" fill="#2a9da3" stroke="#2a9da3">Liberia</text>
<text x="1101.3" y="978.2" fill="#2b9da8" stroke="#2b9da8">Libya</text>
<text x="1487.2" y="917.3" fill="#2c9ead" stroke="#2c9ead">Lithuania</text>
<text x="1459.1" y="775.4" fill="#2c9eb0" stroke="#2c9eb0">Luxembourg</text>
<text x="299.9" y="1120.1" fill="#2c9eb4" stroke="#2c9eb4">Madagascar</text>
<text x="417.2" y="1059.7" fill="#2c9eb7" stroke="#2c9eb7">Malawi</text>
<text x="1173.0" y="1068.2" fill="#2c9dba" stroke="#2c9dba">Malaysia</text>
<text x="938.3" y="1124.3" fill="#2c9dbd" stroke="#2c9dbd">Maldives</text>
<text x="152.9" y="1026.9" fill="#2c9dc0" stroke="#2c9dc0">Mali</text>
<text x="1273.2" y="834.4" fill="#2c9dc4" stroke="#2c9dc4">Malta</text>
<text x="780.8" y="1153.6" fill="#2c9cc7" stroke="#2c9cc7">Marshall Islands</text>
<text x="624.0" y="1001.4" fill="#2c9cca" stroke="#2c9cca">Mauritania</text>
<text x="1109.9" y="1152.0" fill="#2c9ccd" stroke="#2c9ccd">Mauritius</text>
<text x="994.2" y="698.2" fill="#2c9bcf" stroke="#2c9bcf">Mexico</text>
<text x="768.4" y="1069.3" fill="#2c9ad0" stroke="#2c9ad0">Micronesia (Federated States of)</text>
<text x="1494.2" y="715.1" fill="#2c99d1" stroke="#2c99d1">Monaco</text>
<text x="891.2" y="972.0" fill="#2b98d2" stroke="#2b98d2">Mongolia</text>
<text x="1361.8" y="974.7" fill="#2b97d3" stroke="#2b97d3">Montenegro</text>
<text x="696.7" y="942.7" fill="#2b96d4" stroke="#2b96d4">Morocco</text>
<text x="190.8" y="969.5" fill="#2a95d4" stroke="#2a95d4">Mozambique</text>
<text x="766.8" y="1069.3" fill="#2a94d4" stroke="#2a94d4">Myanmar</text>
<text x="784.4" y="830.1" fill="#2a93d5" stroke="#2a93d5">Namibia</text>
<text x="910.6" y="1096.2" fill="#2992d5" stroke="#2992d5">Nauru</text>
<text x="532.8" y="1094.6" fill="#2992d5" stroke="#2992d5">Nepal</text>
<text x="1409.8" y="599.6" fill="#2891d5" stroke="#2891d5">Netherlands</text>
<text x="1575.5" y="773.2" fill="#288fd5" stroke="#288fd5">New Zealand</text>
<text x="596.9" y="885.0" fill="#298acf" stroke="#298acf">Nicaragua</text>
<text x="656.8" y="971.1" fill="#2b81c7" stroke="#2b81c7">Nigeria</text>
<text x="1194.4" y="1124.3" fill="#2c7fc5" stroke="#2c7fc5">Niue</text>
<text x="1158.4" y="978.2" fill="#2d7cc4" stroke="#2d7cc4">North Macedonia</text>
<text x="1301.1" y="1129.6" fill="#2f7bc1" stroke="#2f7bc1">Northern Mariana Islands</text>
<text x="1507.9" y="860.9" fill="#3279bf" stroke="#3279bf">Norway</text>
<text x="1331.4" y="1045.7" fill="#3577bd" stroke="#3577bd">Oman</text>
<text x="685.5" y="1069.3" fill="#3c76bc" stroke="#3c76bc">Pakistan</text>
<text x="1248.5" y="1101.5" fill="#4575ba" stroke="#4575ba">Palau</text>
<text x="824.2" y="858.2" fill="#4e74b8" stroke="#4e74b8">Palestine</text>
<text x="1074.5" y="805.1" fill="#5673b7" stroke="#5673b7">Panama</text>
<text x="365.3" y="1091.4" fill="#5c73b6" stroke="#5c73b6">Papua New Guinea</text>
<text x="849.1" y="889.1" fill="#6172b4" stroke="#6172b4">Paraguay</text>
<text x="950.2" y="833.1" fill="#6771b3" stroke="#6771b3">Peru</text>
<text x="971.8" y="1094.6" fill="#6c70b2" stroke="#6c70b2">Philippines</text>
<text x="1314.3" y="889.6" fill="#6e70b2" stroke="#6e70b2">Poland</text>
<text x="1132.6" y="833.8" fill="#7170b2" stroke="#7170b2">Portugal</text>
<text x="1205.4" y="657.0" fill="#7470b2" stroke="#7470b2">Puerto Rico</text>
<text x="1534.8" y="1028.2" fill="#766fb2" stroke="#766fb2">Qatar</text>
<text x="1480.1" y="803.5" fill="#796fb2" stroke="#796fb2">Republic of Korea</text>
<text x="1045.8" y="861.5" fill="#7c6eb1" stroke="#7c6eb1">Republic of Moldova</text>
<text x="1199.8" y="947.0" fill="#7f6db0" stroke="#7f6db0">Romania</text>
<text x="1269.0" y="860.9" fill="#826caf" stroke="#826caf">Russian Federation</text>
<text x="489.1" y="1151.4" fill="#856bae" stroke="#856bae">Rwanda</text>
<text x="1052.2" y="775.4" fill="#886aad" stroke="#886aad">Saint Kitts and Nevis</text>
<text x="981.4" y="773.2" fill="#8b69ac" stroke="#8b69ac">Saint Lucia</text>
<text x="854.6" y="742.1" fill="#8d68ab" stroke="#8d68ab">Saint Vincent and the Grenadines</text>
<text x="693.5" y="885.3" fill="#9067aa" stroke="#9067aa">Samoa</text>
<text x="1468.0" y="745.1" fill="#9366a9" stroke="#9366a9">San Marino</text>
<text x="543.6" y="941.7" fill="#9665a8" stroke="#9665a8">Sao Tome and Principe</text>
<text x="1256.8" y="1008.4" fill="#9864a7" stroke="#9864a7">Saudi Arabia</text>
<text x="462.3" y="1025.6" fill="#9a63a7" stroke="#9a63a7">Senegal</text>
<text x="1296.1" y="974.1" fill="#9d61a6" stroke="#9d61a6">Serbia</text>
<text x="1201.7" y="1153.6" fill="#9f60a5" stroke="#9f60a5">Seychelles</text>
<text x="180.3" y="1112.2" fill="#a15fa4" stroke="#a15fa4">Sierra Leone</text>
<text x="1373.3" y="804.1" fill="#a45ea3" stroke="#a45ea3">Singapore</text>
<text x="1381.3" y="888.6" fill="#a65da3" stroke="#a65da3">Slovakia</text>
<text x="1402.7" y="917.3" fill="#a85ca2" stroke="#a85ca2">Slovenia</text>
<text x="414.7" y="1120.1" fill="#ab5aa1" stroke="#ab5aa1">Solomon Islands</text>
<text x="1056.3" y="744.5" fill="#af589f" stroke="#af589f">South Africa</text>
<text x="96.8" y="1080.8" fill="#b1579d" stroke="#b1579d">South Sudan</text>
<text x="1226.1" y="425.1" fill="#b3569c" stroke="#b3569c">Spain</text>
<text x="1069.4" y="1068.2" fill="#b6559a" stroke="#b6559a">Sri Lanka</text>
<text x="652.7" y="913.0" fill="#b85499" stroke="#b85499">Sudan</text>
<text x="807.4" y="714.7" fill="#ba5397" stroke="#ba5397">Suriname</text>
<text x="1452.1" y="832.2" fill="#bc5295" stroke="#bc5295">Sweden</text>
<text x="1576.4" y="743.5" fill="#be5194" stroke="#be5194">Switzerland</text>
<text x="785.3" y="922.0" fill="#c05093" stroke="#c05093">Syrian Arab Republic</text>
<text x="1462.1" y="1055.3" fill="#c24f91" stroke="#c24f91">Taiwan (Province of China)</text>
<text x="730.8" y="979.0" fill="#c44f90" stroke="#c44f90">Tajikistan</text>
<text x="1035.0" y="1096.2" fill="#c64e8f" stroke="#c64e8f">Thailand</text>
<text x="570.7" y="1069.3" fill="#c84e8e" stroke="#c84e8e">Timor<tspan dx="2.30">-</tspan><tspan dx="2.30">Leste</tspan></text>
<text x="420.4" y="969.5" fill="#cb4d8d" stroke="#cb4d8d">Togo</text>
<text x="1075.8" y="1124.0" fill="#cd4d8c" stroke="#cd4d8c">Tokelau</text>
<text x="909.3" y="1153.6" fill="#cf4c8b" stroke="#cf4c8b">Tonga</text>
<text x="1148.8" y="744.5" fill="#d14c8a" stroke="#d14c8a">Trinidad and Tobago</text>
<text x="1025.4" y="1006.0" fill="#d14c89" stroke="#d14c89">Tunisia</text>
<text x="880.0" y="861.5" fill="#d24c87" stroke="#d24c87">Turkmenistan</text>
<text x="862.1" y="1124.9" fill="#d24d86" stroke="#d24d86">Tuvalu</text>
<text x="1042.6" y="949.2" fill="#d24d84" stroke="#d24d84">Türkiye</text>
<text x="409.3" y="1147.9" fill="#d34d83" stroke="#d34d83">Uganda</text>
<text x="1208.4" y="889.6" fill="#d34e81" stroke="#d34e81">Ukraine</text>
<text x="1487.8" y="974.1" fill="#d34e80" stroke="#d34e80">United Arab Emirates</text>
<text x="1364.5" y="541.0" fill="#d44e7f" stroke="#d44e7f">United Kingdom</text>
<text x="1150.4" y="717.4" fill="#d54e7c" stroke="#d54e7c">United States Virgin Islands</text>
<text x="1326.3" y="135.5" fill="#d54e7a" stroke="#d54e7a">United States of America</text>
<text x="1119.7" y="447.5" fill="#d54e79" stroke="#d54e79">Uruguay</text>
<text x="984.9" y="972.8" fill="#d64f76" stroke="#d64f76">Uzbekistan</text>
<text x="585.4" y="1151.4" fill="#d65171" stroke="#d65171">Vanuatu</text>
<text x="636.1" y="858.2" fill="#d6536c" stroke="#d6536c">Venezuela (Bolivarian Republic of)</text>
<text x="937.7" y="1069.1" fill="#d65467" stroke="#d65467">Viet Nam</text>
<text x="448.8" y="913.7" fill="#d65763" stroke="#d65763">Yemen</text>
<text x="516.5" y="884.3" fill="#d6595f" stroke="#d6595f">Zambia</text>
<text x="552.6" y="913.0" fill="#d75b5b" stroke="#d75b5b">Zimbabwe</text></g>
<g stroke="#000" stroke-width="2.15" fill="none">
<path d="M63.6 95.0 V1190.0 H1741.6"/>
<path d="M139.4 1190.0 v6.0"/>
<path d="M330.0 1190.0 v6.0"/>
<path d="M520.7 1190.0 v6.0"/>
<path d="M711.3 1190.0 v6.0"/>
<path d="M902.0 1190.0 v6.0"/>
<path d="M1092.6 1190.0 v6.0"/>
<path d="M1283.3 1190.0 v6.0"/>
<path d="M1474.0 1190.0 v6.0"/>
<path d="M1664.6 1190.0 v6.0"/>
<path d="M63.6 1055.9 h-6.0"/>
<path d="M63.6 870.9 h-6.0"/>
<path d="M63.6 685.9 h-6.0"/>
<path d="M63.6 500.9 h-6.0"/>
<path d="M63.6 315.9 h-6.0"/>
<path d="M63.6 130.9 h-6.0"/>
</g>
<g font-size="17.60px" fill="#000">
<text x="139.4" y="1212.3" text-anchor="middle">0.2</text>
<text x="330.0" y="1212.3" text-anchor="middle">0.3</text>
<text x="520.7" y="1212.3" text-anchor="middle">0.4</text>
<text x="711.3" y="1212.3" text-anchor="middle">0.5</text>
<text x="902.0" y="1212.3" text-anchor="middle">0.6</text>
<text x="1092.6" y="1212.3" text-anchor="middle">0.7</text>
<text x="1283.3" y="1212.3" text-anchor="middle">0.8</text>
<text x="1474.0" y="1212.3" text-anchor="middle">0.9</text>
<text x="1664.6" y="1212.3" text-anchor="middle">1.0</text>
<text x="52.6" y="1062.1" text-anchor="end">0</text>
<text x="52.6" y="877.1" text-anchor="end">5</text>
<text x="52.6" y="692.1" text-anchor="end">10</text>
<text x="52.6" y="507.1" text-anchor="end">15</text>
<text x="52.6" y="322.1" text-anchor="end">20</text>
<text x="52.6" y="137.1" text-anchor="end">25</text>
</g>
<text x="898.8" y="1238.0" text-anchor="middle" font-size="22.10px" fill="#000">SDI</text>
<text transform="translate(22.0 640.9) rotate(-90)" text-anchor="middle" font-size="22.10px" fill="#000">Incidence Rate per 100,000 population</text>
<text x="871.6" y="39.6" text-anchor="middle" font-family="'Liberation Serif', serif" font-weight="bold" font-size="47.80px" fill="#000">Opioid</text>
</g>
<g>
<g><circle cx="409.3" cy="2283.1" r="3.1" fill="#f26962"/>
<circle cx="1110.2" cy="2216.0" r="3.1" fill="#f26b5c"/>
<circle cx="1020.3" cy="2255.2" r="3.1" fill="#f36d56"/>
<circle cx="1142.1" cy="2198.5" r="3.1" fill="#f36e51"/>
<circle cx="1418.2" cy="1801.4" r="3.1" fill="#f3704b"/>
<circle cx="630.0" cy="2338.3" r="3.1" fill="#f47443"/>
<circle cx="1191.5" cy="2230.4" r="3.1" fill="#f4773a"/>
<circle cx="1140.8" cy="2174.6" r="3.1" fill="#f47b34"/>
<circle cx="1100.3" cy="2305.7" r="3.1" fill="#f17d32"/>
<circle cx="1370.3" cy="1509.6" r="3.1" fill="#ee8030"/>
<circle cx="1388.5" cy="1835.1" r="3.1" fill="#ed812f"/>
<circle cx="1087.6" cy="2303.8" r="3.1" fill="#ec822e"/>
<circle cx="1305.4" cy="2158.6" r="3.1" fill="#ea832e"/>
<circle cx="1197.9" cy="2293.4" r="3.1" fill="#e9852d"/>
<circle cx="703.1" cy="2208.5" r="3.1" fill="#e8862c"/>
<circle cx="1185.5" cy="2304.6" r="3.1" fill="#e6872b"/>
<circle cx="1257.2" cy="2072.5" r="3.1" fill="#e5882b"/>
<circle cx="1388.0" cy="1895.9" r="3.1" fill="#e4892a"/>
<circle cx="927.5" cy="2312.8" r="3.1" fill="#e38b29"/>
<circle cx="477.0" cy="2381.3" r="3.1" fill="#e18c28"/>
<circle cx="1327.7" cy="2144.3" r="3.1" fill="#df8d28"/>
<circle cx="666.5" cy="2337.1" r="3.1" fill="#db8f28"/>
<circle cx="905.6" cy="2301.0" r="3.1" fill="#d89028"/>
<circle cx="1140.8" cy="2261.7" r="3.1" fill="#d59228"/>
<circle cx="988.7" cy="2337.3" r="3.1" fill="#d29428"/>
<circle cx="1008.3" cy="2323.6" r="3.1" fill="#cf9528"/>
<circle cx="1295.8" cy="2159.6" r="3.1" fill="#cc9728"/>
<circle cx="1225.7" cy="2212.2" r="3.1" fill="#c99827"/>
<circle cx="309.3" cy="2390.1" r="3.1" fill="#c69927"/>
<circle cx="318.9" cy="2455.1" r="3.1" fill="#c39a26"/>
<circle cx="781.2" cy="2260.5" r="3.1" fill="#c09b25"/>
<circle cx="667.4" cy="2357.7" r="3.1" fill="#bd9c25"/>
<circle cx="679.9" cy="2352.8" r="3.1" fill="#ba9e24"/>
<circle cx="1425.2" cy="1934.3" r="3.1" fill="#b79f24"/>
<circle cx="356.2" cy="2402.8" r="3.1" fill="#b4a023"/>
<circle cx="225.8" cy="2395.5" r="3.1" fill="#b0a023"/>
<circle cx="1232.4" cy="2185.1" r="3.1" fill="#aba124"/>
<circle cx="1138.3" cy="2213.8" r="3.1" fill="#a7a124"/>
<circle cx="1012.6" cy="2323.9" r="3.1" fill="#a2a225"/>
<circle cx="672.4" cy="2411.6" r="3.1" fill="#9ea225"/>
<circle cx="879.3" cy="2308.0" r="3.1" fill="#9aa326"/>
<circle cx="1247.3" cy="2177.5" r="3.1" fill="#95a326"/>
<circle cx="1115.9" cy="2289.6" r="3.1" fill="#91a427"/>
<circle cx="1284.0" cy="2118.1" r="3.1" fill="#8ca427"/>
<circle cx="1038.2" cy="2326.1" r="3.1" fill="#88a427"/>
<circle cx="1354.2" cy="1999.6" r="3.1" fill="#83a528"/>
<circle cx="1340.5" cy="2150.7" r="3.1" fill="#80a628"/>
<circle cx="584.8" cy="2359.0" r="3.1" fill="#7ca629"/>
<circle cx="850.7" cy="2225.4" r="3.1" fill="#79a729"/>
<circle cx="492.9" cy="2379.7" r="3.1" fill="#75a82a"/>
<circle cx="1469.5" cy="1674.5" r="3.1" fill="#72a92a"/>
<circle cx="695.4" cy="2404.3" r="3.1" fill="#6eaa2a"/>
<circle cx="1185.8" cy="2224.0" r="3.1" fill="#6aab2b"/>
<circle cx="943.8" cy="2300.8" r="3.1" fill="#67ac2b"/>
<circle cx="1023.5" cy="2299.2" r="3.1" fill="#63ad2c"/>
<circle cx="920.5" cy="2340.8" r="3.1" fill="#60ae2c"/>
<circle cx="838.9" cy="2327.1" r="3.1" fill="#5cae2d"/>
<circle cx="1023.0" cy="2299.3" r="3.1" fill="#59af2e"/>
<circle cx="536.0" cy="2392.5" r="3.1" fill="#55af2f"/>
<circle cx="1371.5" cy="1929.4" r="3.1" fill="#52ae31"/>
<circle cx="860.5" cy="2345.6" r="3.1" fill="#4eae33"/>
<circle cx="450.3" cy="2467.9" r="3.1" fill="#4bad35"/>
<circle cx="1049.3" cy="2311.2" r="3.1" fill="#47ad36"/>
<circle cx="1400.0" cy="1703.8" r="3.1" fill="#44ad38"/>
<circle cx="1359.5" cy="1921.1" r="3.1" fill="#40ac3a"/>
<circle cx="972.9" cy="2274.8" r="3.1" fill="#3dac3c"/>
<circle cx="547.1" cy="2386.1" r="3.1" fill="#39ac3d"/>
<circle cx="1158.4" cy="2273.5" r="3.1" fill="#36ab3f"/>
<circle cx="1481.9" cy="1815.4" r="3.1" fill="#32ab41"/>
<circle cx="841.1" cy="2398.9" r="3.1" fill="#2eab43"/>
<circle cx="1271.3" cy="2057.5" r="3.1" fill="#2baa45"/>
<circle cx="1336.3" cy="2126.7" r="3.1" fill="#28aa46"/>
<circle cx="1037.8" cy="2201.0" r="3.1" fill="#27aa49"/>
<circle cx="1294.2" cy="2151.6" r="3.1" fill="#26aa4c"/>
<circle cx="793.3" cy="2165.8" r="3.1" fill="#26aa4f"/>
<circle cx="408.2" cy="2385.9" r="3.1" fill="#25aa52"/>
<circle cx="440.1" cy="2392.3" r="3.1" fill="#24aa55"/>
<circle cx="1003.9" cy="2332.2" r="3.1" fill="#24aa57"/>
<circle cx="619.8" cy="2348.5" r="3.1" fill="#23aa5a"/>
<circle cx="762.1" cy="2250.3" r="3.1" fill="#22aa5d"/>
<circle cx="1269.4" cy="2241.8" r="3.1" fill="#22aa60"/>
<circle cx="1431.0" cy="1712.1" r="3.1" fill="#21aa63"/>
<circle cx="860.5" cy="2345.6" r="3.1" fill="#20aa66"/>
<circle cx="1015.2" cy="2398.9" r="3.1" fill="#1faa68"/>
<circle cx="1091.4" cy="2174.9" r="3.1" fill="#1faa6b"/>
<circle cx="1026.0" cy="2336.0" r="3.1" fill="#1eaa6e"/>
<circle cx="1426.5" cy="1704.2" r="3.1" fill="#1faa72"/>
<circle cx="1303.7" cy="1961.6" r="3.1" fill="#20aa76"/>
<circle cx="1297.5" cy="2022.3" r="3.1" fill="#21aa7a"/>
<circle cx="1064.3" cy="2319.1" r="3.1" fill="#22aa7e"/>
<circle cx="1421.8" cy="2232.3" r="3.1" fill="#23aa82"/>
<circle cx="1145.3" cy="2334.8" r="3.1" fill="#24aa86"/>
<circle cx="1144.7" cy="2056.6" r="3.1" fill="#25aa89"/>
<circle cx="763.0" cy="2473.2" r="3.1" fill="#26aa8d"/>
<circle cx="769.7" cy="2339.2" r="3.1" fill="#27aa91"/>
<circle cx="1375.6" cy="2250.5" r="3.1" fill="#28aa95"/>
<circle cx="915.1" cy="2258.9" r="3.1" fill="#29ab9b"/>
<circle cx="697.3" cy="2332.2" r="3.1" fill="#2aaca0"/>
<circle cx="1344.6" cy="2112.7" r="3.1" fill="#2cada6"/>
<circle cx="1182.3" cy="2222.4" r="3.1" fill="#2daeac"/>
<circle cx="740.0" cy="2354.2" r="3.1" fill="#2eafb1"/>
<circle cx="438.5" cy="2402.8" r="3.1" fill="#2fb0b7"/>
<circle cx="1146.3" cy="2149.1" r="3.1" fill="#31b1bd"/>
<circle cx="1393.8" cy="2021.5" r="3.1" fill="#32b2c2"/>
<circle cx="1446.3" cy="1731.5" r="3.1" fill="#32b2c6"/>
<circle cx="529.0" cy="2429.8" r="3.1" fill="#32b1ca"/>
<circle cx="498.1" cy="2438.6" r="3.1" fill="#32b1cd"/>
<circle cx="1177.5" cy="2260.7" r="3.1" fill="#32b1d1"/>
<circle cx="1004.4" cy="2266.4" r="3.1" fill="#32b1d5"/>
<circle cx="279.3" cy="2406.0" r="3.1" fill="#32b0d8"/>
<circle cx="1289.7" cy="1935.1" r="3.1" fill="#32b0dc"/>
<circle cx="857.7" cy="2218.0" r="3.1" fill="#32b0e0"/>
<circle cx="716.1" cy="2380.4" r="3.1" fill="#32afe3"/>
<circle cx="1131.3" cy="2083.4" r="3.1" fill="#32afe7"/>
<circle cx="1029.2" cy="2308.9" r="3.1" fill="#32aee9"/>
<circle cx="955.7" cy="2274.2" r="3.1" fill="#31adea"/>
<circle cx="1491.8" cy="1720.4" r="3.1" fill="#31aceb"/>
<circle cx="884.8" cy="2284.4" r="3.1" fill="#31aaec"/>
<circle cx="1278.6" cy="2150.0" r="3.1" fill="#30a9ed"/>
<circle cx="837.0" cy="2274.2" r="3.1" fill="#30a8ee"/>
<circle cx="389.0" cy="2378.0" r="3.1" fill="#30a7ee"/>
<circle cx="781.8" cy="2326.5" r="3.1" fill="#2fa6ef"/>
<circle cx="940.9" cy="2331.9" r="3.1" fill="#2fa5ef"/>
<circle cx="955.7" cy="2274.2" r="3.1" fill="#2ea4ef"/>
<circle cx="591.8" cy="2369.5" r="3.1" fill="#2ea4ef"/>
<circle cx="1454.2" cy="1996.3" r="3.1" fill="#2da3f0"/>
<circle cx="1380.6" cy="1895.5" r="3.1" fill="#2da1ef"/>
<circle cx="763.0" cy="2323.3" r="3.1" fill="#2f9be9"/>
<circle cx="724.1" cy="2397.3" r="3.1" fill="#3191e0"/>
<circle cx="1147.2" cy="2224.9" r="3.1" fill="#318fde"/>
<circle cx="1232.1" cy="2242.5" r="3.1" fill="#328cdc"/>
<circle cx="1232.4" cy="2243.1" r="3.1" fill="#358ad9"/>
<circle cx="1506.7" cy="1645.6" r="3.1" fill="#3888d7"/>
<circle cx="1236.5" cy="2324.6" r="3.1" fill="#3b86d5"/>
<circle cx="727.2" cy="2389.4" r="3.1" fill="#4384d3"/>
<circle cx="1192.2" cy="2241.8" r="3.1" fill="#4e84d1"/>
<circle cx="966.4" cy="2340.5" r="3.1" fill="#5883cf"/>
<circle cx="1114.3" cy="2283.2" r="3.1" fill="#6182ce"/>
<circle cx="562.4" cy="2310.5" r="3.1" fill="#6781cc"/>
<circle cx="975.3" cy="2351.7" r="3.1" fill="#6d80cb"/>
<circle cx="1024.9" cy="2268.8" r="3.1" fill="#747fc9"/>
<circle cx="1004.7" cy="2408.4" r="3.1" fill="#797ec8"/>
<circle cx="1309.5" cy="2269.0" r="3.1" fill="#7c7ec8"/>
<circle cx="1180.7" cy="2077.6" r="3.1" fill="#7f7ec8"/>
<circle cx="1334.7" cy="1873.1" r="3.1" fill="#827dc8"/>
<circle cx="1375.8" cy="2312.8" r="3.1" fill="#857dc8"/>
<circle cx="1451.1" cy="2154.2" r="3.1" fill="#887dc8"/>
<circle cx="1158.1" cy="2221.1" r="3.1" fill="#8b7cc7"/>
<circle cx="1226.9" cy="2189.2" r="3.1" fill="#8e7bc6"/>
<circle cx="1302.5" cy="2001.7" r="3.1" fill="#9279c4"/>
<circle cx="595.9" cy="2434.9" r="3.1" fill="#9578c3"/>
<circle cx="1200.2" cy="2231.3" r="3.1" fill="#9877c2"/>
<circle cx="1044.7" cy="2268.6" r="3.1" fill="#9c76c1"/>
<circle cx="978.0" cy="2258.0" r="3.1" fill="#9f75c0"/>
<circle cx="894.4" cy="2298.1" r="3.1" fill="#a274bf"/>
<circle cx="1453.3" cy="1785.2" r="3.1" fill="#a573be"/>
<circle cx="728.3" cy="2387.7" r="3.1" fill="#a871bd"/>
<circle cx="1315.0" cy="2268.0" r="3.1" fill="#ab70bc"/>
<circle cx="543.9" cy="2385.5" r="3.1" fill="#ad6fbb"/>
<circle cx="1272.2" cy="2203.6" r="3.1" fill="#b06dba"/>
<circle cx="1154.2" cy="2295.1" r="3.1" fill="#b36cb9"/>
<circle cx="450.3" cy="2396.1" r="3.1" fill="#b56bb9"/>
<circle cx="1393.1" cy="2138.9" r="3.1" fill="#b86ab8"/>
<circle cx="1307.0" cy="2224.9" r="3.1" fill="#bb68b7"/>
<circle cx="1366.9" cy="2120.4" r="3.1" fill="#bd67b6"/>
<circle cx="584.8" cy="2358.4" r="3.1" fill="#c066b5"/>
<circle cx="1114.4" cy="2283.0" r="3.1" fill="#c563b3"/>
<circle cx="297.8" cy="2433.1" r="3.1" fill="#c762b1"/>
<circle cx="1228.1" cy="1945.9" r="3.1" fill="#ca61af"/>
<circle cx="1100.0" cy="2275.0" r="3.1" fill="#cc5fad"/>
<circle cx="797.1" cy="2300.3" r="3.1" fill="#ce5eab"/>
<circle cx="970.9" cy="2220.8" r="3.1" fill="#d15daa"/>
<circle cx="1451.3" cy="1724.5" r="3.1" fill="#d35ca8"/>
<circle cx="1539.3" cy="1694.3" r="3.1" fill="#d55ba6"/>
<circle cx="951.1" cy="2323.9" r="3.1" fill="#d85aa5"/>
<circle cx="1428.5" cy="1990.9" r="3.1" fill="#da59a3"/>
<circle cx="796.8" cy="2333.5" r="3.1" fill="#dc59a2"/>
<circle cx="1064.3" cy="2346.2" r="3.1" fill="#df58a1"/>
<circle cx="612.2" cy="2341.8" r="3.1" fill="#e157a0"/>
<circle cx="543.9" cy="2389.3" r="3.1" fill="#e4579f"/>
<circle cx="1063.4" cy="2267.0" r="3.1" fill="#e6569e"/>
<circle cx="957.2" cy="2280.9" r="3.1" fill="#e8569c"/>
<circle cx="1227.3" cy="2269.6" r="3.1" fill="#eb559b"/>
<circle cx="1071.3" cy="2263.2" r="3.1" fill="#eb559a"/>
<circle cx="1063.4" cy="2282.3" r="3.1" fill="#ec5698"/>
<circle cx="863.5" cy="2299.4" r="3.1" fill="#ec5696"/>
<circle cx="1121.1" cy="2303.2" r="3.1" fill="#ec5695"/>
<circle cx="572.6" cy="2433.3" r="3.1" fill="#ed5793"/>
<circle cx="1212.3" cy="2184.1" r="3.1" fill="#ed5791"/>
<circle cx="1379.7" cy="2166.9" r="3.1" fill="#ee5890"/>
<circle cx="1398.4" cy="1715.0" r="3.1" fill="#ee588e"/>
<circle cx="616.6" cy="2398.2" r="3.1" fill="#ee588d"/>
<circle cx="1327.7" cy="1993.8" r="3.1" fill="#ef588b"/>
<circle cx="1405.0" cy="1785.7" r="3.1" fill="#ef588a"/>
<circle cx="1133.5" cy="2182.5" r="3.1" fill="#f05888"/>
<circle cx="960.4" cy="2252.8" r="3.1" fill="#f05985"/>
<circle cx="623.4" cy="2315.6" r="3.1" fill="#f05b7f"/>
<circle cx="901.0" cy="2312.8" r="3.1" fill="#f05d79"/>
<circle cx="959.7" cy="2252.1" r="3.1" fill="#f05f73"/>
<circle cx="667.0" cy="2321.0" r="3.1" fill="#f0616f"/>
<circle cx="729.5" cy="2404.6" r="3.1" fill="#f1646b"/>
<circle cx="668.0" cy="2267.8" r="3.1" fill="#f16666"/></g>
<polygon points="225.9,2340.7 236.6,2343.2 247.3,2345.6 258.0,2347.8 268.7,2349.7 279.4,2351.5 290.1,2353.2 300.8,2354.6 311.5,2355.9 322.2,2357.0 332.9,2357.9 343.6,2358.7 354.3,2359.3 365.0,2359.7 375.6,2360.1 386.3,2360.2 397.0,2360.2 407.6,2360.1 418.3,2359.8 429.0,2359.4 439.6,2358.9 450.3,2358.2 460.9,2357.4 471.6,2356.5 482.3,2355.5 492.9,2354.3 503.5,2353.0 514.2,2351.7 524.8,2350.2 535.5,2348.6 546.1,2346.9 556.8,2345.2 567.4,2343.3 578.0,2341.3 588.7,2339.3 599.3,2337.2 609.9,2335.0 620.6,2332.8 631.2,2330.5 641.8,2328.3 652.4,2326.0 663.1,2323.7 673.7,2321.4 684.3,2319.2 695.0,2317.0 705.6,2314.9 716.2,2312.8 726.8,2310.8 737.4,2308.9 748.1,2307.1 758.7,2305.5 769.3,2303.9 779.9,2302.4 790.6,2301.0 801.2,2299.6 811.8,2298.3 822.4,2297.0 833.0,2295.8 843.7,2294.5 854.3,2293.2 864.9,2291.9 875.5,2290.6 886.2,2289.2 896.8,2287.7 907.4,2286.2 918.0,2284.7 928.7,2283.1 939.3,2281.4 949.9,2279.8 960.5,2278.1 971.2,2276.4 981.8,2274.6 992.4,2272.7 1003.0,2270.8 1013.6,2268.8 1024.3,2266.7 1034.9,2264.4 1045.5,2262.0 1056.1,2259.5 1066.6,2256.8 1077.1,2253.9 1087.5,2250.7 1097.8,2247.3 1108.0,2243.7 1117.9,2239.7 1127.7,2235.3 1137.3,2230.7 1146.7,2225.6 1155.8,2220.2 1164.7,2214.4 1173.4,2208.3 1181.8,2201.9 1190.1,2195.2 1198.3,2188.2 1206.2,2181.0 1214.0,2173.6 1221.8,2166.0 1229.7,2158.2 1237.5,2150.2 1245.1,2142.2 1252.7,2133.9 1259.9,2125.6 1266.8,2117.3 1273.7,2108.8 1280.5,2100.4 1287.2,2091.9 1293.9,2083.4 1300.5,2074.8 1307.0,2066.2 1313.5,2057.6 1319.8,2048.9 1326.1,2040.2 1332.4,2031.5 1338.5,2022.7 1344.6,2013.9 1350.7,2005.0 1356.6,1996.1 1362.5,1987.1 1368.3,1978.1 1374.0,1969.0 1379.7,1959.9 1385.3,1950.8 1390.8,1941.5 1396.2,1932.3 1401.6,1923.0 1406.9,1913.6 1412.1,1904.1 1417.3,1894.6 1422.1,1885.1 1426.6,1875.5 1431.0,1865.8 1435.3,1856.1 1439.7,1846.3 1444.3,1836.5 1448.8,1826.6 1453.2,1816.7 1457.5,1806.8 1461.6,1796.8 1465.6,1786.8 1469.5,1776.8 1473.2,1766.7 1476.8,1756.6 1480.2,1746.5 1483.5,1736.4 1486.7,1726.2 1489.7,1716.1 1492.6,1705.9 1495.5,1695.7 1498.4,1685.5 1501.4,1675.3 1504.5,1665.1 1507.8,1654.9 1511.3,1644.7 1515.1,1634.5 1519.2,1624.3 1523.5,1614.1 1527.7,1603.9 1531.8,1593.8 1535.5,1583.6 1538.6,1573.5 1538.6,1703.0 1534.6,1712.6 1530.5,1722.2 1526.3,1731.7 1522.1,1741.2 1517.7,1750.6 1513.4,1760.0 1508.9,1769.4 1504.4,1778.7 1499.8,1787.9 1495.2,1797.1 1490.5,1806.3 1485.8,1815.4 1481.0,1824.5 1476.1,1833.6 1471.2,1842.6 1466.1,1851.6 1460.4,1860.6 1454.7,1869.6 1448.9,1878.5 1443.1,1887.4 1437.7,1896.3 1432.4,1905.1 1427.1,1914.0 1421.8,1922.8 1416.4,1931.6 1411.0,1940.4 1405.6,1949.2 1400.1,1957.9 1394.6,1966.7 1389.0,1975.4 1383.4,1984.2 1377.8,1992.9 1372.2,2001.7 1366.5,2010.4 1360.8,2019.1 1355.1,2027.7 1349.3,2036.4 1343.5,2045.0 1337.7,2053.5 1331.8,2062.1 1325.9,2070.5 1319.9,2079.0 1313.9,2087.4 1307.8,2095.7 1301.7,2104.0 1295.5,2112.2 1289.2,2120.4 1282.8,2128.5 1276.9,2136.5 1270.9,2144.5 1264.8,2152.3 1258.6,2160.1 1252.3,2167.8 1245.4,2175.4 1238.3,2182.9 1231.0,2190.4 1223.5,2197.7 1215.9,2204.9 1208.2,2211.9 1200.3,2218.7 1192.3,2225.4 1184.2,2231.8 1175.8,2238.0 1167.4,2243.9 1158.8,2249.6 1150.1,2255.0 1141.3,2260.1 1132.3,2265.1 1123.3,2269.8 1114.1,2274.3 1104.9,2278.6 1095.6,2282.7 1086.2,2286.7 1076.7,2290.4 1067.2,2294.0 1057.6,2297.4 1047.9,2300.7 1038.2,2303.8 1028.4,2306.8 1018.5,2309.7 1008.6,2312.4 998.6,2315.0 988.6,2317.5 978.6,2319.9 968.5,2322.2 958.3,2324.4 948.2,2326.5 938.0,2328.5 927.7,2330.5 917.5,2332.4 907.2,2334.3 896.9,2336.1 886.6,2337.8 876.3,2339.6 866.0,2341.3 855.6,2343.0 845.3,2344.7 835.0,2346.3 824.6,2348.0 814.3,2349.7 804.0,2351.4 793.7,2353.1 783.4,2354.9 773.2,2356.7 762.9,2358.5 752.7,2360.3 742.5,2362.2 732.3,2364.1 722.1,2366.0 711.9,2368.0 701.7,2369.9 691.6,2371.9 681.4,2374.0 671.3,2376.0 661.2,2378.1 651.1,2380.3 641.0,2382.4 630.9,2384.6 620.9,2386.8 610.8,2389.1 600.8,2391.4 590.7,2393.7 580.7,2396.0 570.7,2398.4 560.7,2400.8 550.7,2403.3 540.8,2405.8 530.8,2408.3 520.8,2410.9 510.9,2413.5 500.9,2416.1 491.0,2418.8 481.1,2421.5 471.2,2424.2 461.3,2427.0 451.4,2429.8 441.5,2432.6 431.6,2435.5 421.8,2438.5 411.9,2441.4 402.1,2444.5 392.2,2447.5 382.4,2450.6 372.6,2453.7 362.7,2456.9 352.9,2460.1 343.1,2463.4 333.3,2466.7 323.5,2470.0 313.7,2473.4 304.0,2476.9 294.2,2480.3 284.4,2483.8 274.7,2487.4 264.9,2491.0 255.1,2494.7 245.4,2498.4 235.6,2502.1 225.9,2505.9" fill="#999999" fill-opacity="0.4"/>
<polyline points="225.9,2422.0 236.4,2420.7 246.9,2419.3 257.4,2418.0 267.9,2416.6 278.4,2415.3 288.8,2413.9 299.3,2412.5 309.7,2411.1 320.1,2409.7 330.5,2408.3 340.9,2406.8 351.3,2405.4 361.7,2403.9 372.0,2402.4 382.4,2401.0 392.7,2399.4 403.1,2397.9 413.4,2396.4 423.7,2394.8 434.1,2393.3 444.4,2391.7 454.7,2390.1 465.0,2388.4 475.3,2386.8 485.6,2385.1 495.9,2383.4 506.1,2381.7 516.4,2380.0 526.7,2378.2 537.0,2376.4 547.3,2374.6 557.5,2372.8 567.8,2370.9 578.1,2369.1 588.4,2367.2 598.7,2365.3 608.9,2363.4 619.2,2361.5 629.5,2359.6 639.8,2357.6 650.1,2355.7 660.4,2353.8 670.7,2351.8 681.0,2349.9 691.3,2348.0 701.6,2346.0 712.0,2344.1 722.3,2342.2 732.6,2340.3 743.0,2338.4 753.3,2336.6 763.7,2334.7 774.1,2332.9 784.5,2331.0 794.9,2329.3 805.3,2327.5 815.7,2325.7 826.1,2324.0 836.6,2322.3 847.0,2320.7 857.5,2319.1 868.0,2317.5 878.4,2315.9 888.9,2314.3 899.4,2312.7 909.9,2311.1 920.3,2309.5 930.8,2307.8 941.2,2306.1 951.7,2304.3 962.0,2302.5 972.4,2300.5 982.7,2298.5 993.0,2296.4 1003.3,2294.1 1013.5,2291.8 1023.7,2289.2 1033.8,2286.6 1043.8,2283.8 1053.8,2280.8 1063.7,2277.7 1073.6,2274.3 1083.3,2270.8 1093.0,2267.0 1102.5,2263.1 1112.0,2258.9 1121.3,2254.4 1130.5,2249.8 1139.5,2244.8 1148.4,2239.6 1157.2,2234.1 1165.8,2228.4 1174.2,2222.5 1182.6,2216.3 1190.7,2209.9 1198.8,2203.3 1206.7,2196.5 1214.5,2189.6 1222.2,2182.4 1229.8,2175.1 1237.2,2167.7 1244.5,2160.1 1251.7,2152.5 1258.8,2144.6 1265.8,2136.7 1272.7,2128.7 1279.4,2120.7 1286.1,2112.5 1292.7,2104.3 1299.1,2095.9 1305.5,2087.6 1311.8,2079.1 1318.0,2070.6 1324.1,2062.0 1330.1,2053.4 1336.0,2044.7 1341.8,2035.9 1347.6,2027.1 1353.2,2018.2 1358.8,2009.3 1364.3,2000.4 1369.8,1991.4 1375.2,1982.3 1380.5,1973.3 1385.7,1964.1 1390.9,1955.0 1396.0,1945.8 1401.0,1936.6 1406.0,1927.4 1411.0,1918.1 1415.8,1908.8 1420.7,1899.5 1425.4,1890.2 1430.2,1880.8 1434.8,1871.5 1439.5,1862.1 1444.1,1852.7 1448.6,1843.3 1453.1,1833.8 1457.6,1824.4 1462.0,1814.9 1466.5,1805.4 1470.8,1795.9 1475.2,1786.4 1479.5,1776.9 1483.8,1767.4 1488.1,1757.8 1492.4,1748.3 1496.6,1738.7 1500.8,1729.1 1505.1,1719.5 1509.3,1709.9 1513.5,1700.3 1517.7,1690.7 1521.9,1681.0 1526.0,1671.4 1530.2,1661.7 1534.4,1652.1 1538.6,1642.4" fill="none" stroke="#62788f" stroke-width="3.5" stroke-linejoin="round"/>
<g stroke-width="1.25" stroke-linecap="butt"><line x1="370.2" y1="2273.7" x2="409.3" y2="2283.1" stroke="#e8655e"/>
<line x1="990.7" y1="2205.2" x2="1020.3" y2="2255.2" stroke="#e96853"/>
<line x1="1118.3" y1="2173.9" x2="1142.1" y2="2198.5" stroke="#e96a4d"/>
<line x1="399.7" y1="2246.2" x2="630.0" y2="2338.3" stroke="#ea6f40"/>
<line x1="1120.8" y1="2144.6" x2="1140.8" y2="2174.6" stroke="#eb7632"/>
<line x1="1154.1" y1="2345.0" x2="1100.3" y2="2305.7" stroke="#e87830"/>
<line x1="1190.8" y1="2373.0" x2="1087.6" y2="2303.8" stroke="#e27d2d"/>
<line x1="1321.9" y1="2165.2" x2="1305.4" y2="2158.6" stroke="#e17e2c"/>
<line x1="1318.7" y1="2341.1" x2="1197.9" y2="2293.4" stroke="#e07f2b"/>
<line x1="595.7" y1="2160.7" x2="703.1" y2="2208.5" stroke="#de802a"/>
<line x1="950.7" y1="2479.7" x2="927.5" y2="2312.8" stroke="#da8527"/>
<line x1="466.5" y1="2364.1" x2="477.0" y2="2381.3" stroke="#d88627"/>
<line x1="1438.3" y1="2111.6" x2="1327.7" y2="2144.3" stroke="#d68826"/>
<line x1="831.0" y1="2252.9" x2="905.6" y2="2301.0" stroke="#d08b26"/>
<line x1="1357.2" y1="2342.0" x2="1140.8" y2="2261.7" stroke="#cd8c26"/>
<line x1="1050.5" y1="2462.9" x2="988.7" y2="2337.3" stroke="#c98e26"/>
<line x1="1575.1" y1="2167.6" x2="1295.8" y2="2159.6" stroke="#c39126"/>
<line x1="1379.9" y1="2195.8" x2="1225.7" y2="2212.2" stroke="#c19226"/>
<line x1="271.8" y1="2364.3" x2="309.3" y2="2390.1" stroke="#be9325"/>
<line x1="582.3" y1="2190.7" x2="781.2" y2="2260.5" stroke="#b89524"/>
<line x1="662.2" y1="2381.1" x2="667.4" y2="2357.7" stroke="#b59623"/>
<line x1="194.0" y1="2390.9" x2="225.8" y2="2395.5" stroke="#a99a22"/>
<line x1="1220.8" y1="2116.5" x2="1232.4" y2="2185.1" stroke="#a49a22"/>
<line x1="1058.0" y1="2119.7" x2="1138.3" y2="2213.8" stroke="#a09b23"/>
<line x1="1029.8" y1="2379.0" x2="1012.6" y2="2323.9" stroke="#9c9b23"/>
<line x1="632.4" y1="2461.5" x2="672.4" y2="2411.6" stroke="#989c24"/>
<line x1="858.8" y1="2308.7" x2="879.3" y2="2308.0" stroke="#939c24"/>
<line x1="1277.5" y1="2144.6" x2="1247.3" y2="2177.5" stroke="#8f9d25"/>
<line x1="1286.8" y1="2369.9" x2="1115.9" y2="2289.6" stroke="#8b9d25"/>
<line x1="1130.2" y1="2435.8" x2="1038.2" y2="2326.1" stroke="#829e26"/>
<line x1="1514.8" y1="2139.0" x2="1340.5" y2="2150.7" stroke="#7b9f27"/>
<line x1="821.6" y1="2166.4" x2="850.7" y2="2225.4" stroke="#74a128"/>
<line x1="440.7" y1="2340.4" x2="492.9" y2="2379.7" stroke="#70a228"/>
<line x1="678.7" y1="2434.4" x2="695.4" y2="2404.3" stroke="#6aa329"/>
<line x1="1461.9" y1="2195.8" x2="1185.8" y2="2224.0" stroke="#66a429"/>
<line x1="860.3" y1="2081.7" x2="1023.5" y2="2299.2" stroke="#5fa62a"/>
<line x1="921.2" y1="2434.4" x2="920.5" y2="2340.8" stroke="#5ca72a"/>
<line x1="844.1" y1="2349.9" x2="838.9" y2="2327.1" stroke="#59a72b"/>
<line x1="932.9" y1="2110.5" x2="1023.0" y2="2299.3" stroke="#55a82c"/>
<line x1="829.5" y1="2138.3" x2="972.9" y2="2274.8" stroke="#3aa539"/>
<line x1="541.1" y1="2404.1" x2="547.1" y2="2386.1" stroke="#37a53b"/>
<line x1="1279.8" y1="2313.8" x2="1158.4" y2="2273.5" stroke="#33a43d"/>
<line x1="1339.1" y1="2110.2" x2="1336.3" y2="2126.7" stroke="#26a344"/>
<line x1="977.8" y1="2121.3" x2="1037.8" y2="2201.0" stroke="#26a346"/>
<line x1="1349.6" y1="2136.5" x2="1294.2" y2="2151.6" stroke="#25a349"/>
<line x1="758.9" y1="2138.5" x2="793.3" y2="2165.8" stroke="#24a34c"/>
<line x1="247.6" y1="2333.8" x2="408.2" y2="2385.9" stroke="#24a34e"/>
<line x1="705.3" y1="2225.0" x2="762.1" y2="2250.3" stroke="#21a359"/>
<line x1="1465.1" y1="2253.0" x2="1269.4" y2="2241.8" stroke="#20a35c"/>
<line x1="1434.0" y1="1695.9" x2="1431.0" y2="1712.1" stroke="#20a35f"/>
<line x1="891.3" y1="2490.2" x2="860.5" y2="2345.6" stroke="#1fa361"/>
<line x1="1044.8" y1="2425.8" x2="1015.2" y2="2398.9" stroke="#1ea364"/>
<line x1="1056.7" y1="2149.4" x2="1091.4" y2="2174.9" stroke="#1da367"/>
<line x1="1112.7" y1="2398.3" x2="1026.0" y2="2336.0" stroke="#1da36a"/>
<line x1="1071.2" y1="2345.5" x2="1064.3" y2="2319.1" stroke="#21a379"/>
<line x1="1507.5" y1="2224.5" x2="1421.8" y2="2232.3" stroke="#22a37c"/>
<line x1="1248.5" y1="2400.5" x2="1145.3" y2="2334.8" stroke="#22a380"/>
<line x1="755.5" y1="2517.9" x2="763.0" y2="2473.2" stroke="#24a388"/>
<line x1="799.0" y1="2377.9" x2="769.7" y2="2339.2" stroke="#25a38b"/>
<line x1="1397.5" y1="2256.3" x2="1375.6" y2="2250.5" stroke="#26a38f"/>
<line x1="780.3" y1="2194.4" x2="915.1" y2="2258.9" stroke="#27a494"/>
<line x1="667.2" y1="2311.2" x2="697.3" y2="2332.2" stroke="#29a59a"/>
<line x1="1376.1" y1="2078.1" x2="1344.6" y2="2112.7" stroke="#2aa69f"/>
<line x1="818.4" y1="2470.9" x2="740.0" y2="2354.2" stroke="#2ca8aa"/>
<line x1="409.3" y1="2437.4" x2="438.5" y2="2402.8" stroke="#2da9b0"/>
<line x1="1162.4" y1="2116.5" x2="1146.3" y2="2149.1" stroke="#2faab5"/>
<line x1="1473.3" y1="1770.8" x2="1446.3" y2="1731.5" stroke="#30abbe"/>
<line x1="515.6" y1="2466.3" x2="529.0" y2="2429.8" stroke="#30aac2"/>
<line x1="411.9" y1="2512.1" x2="498.1" y2="2438.6" stroke="#30aac5"/>
<line x1="1231.3" y1="2284.4" x2="1177.5" y2="2260.7" stroke="#30aac9"/>
<line x1="991.5" y1="2249.8" x2="1004.4" y2="2266.4" stroke="#30aacc"/>
<line x1="219.9" y1="2419.3" x2="279.3" y2="2406.0" stroke="#30a9d0"/>
<line x1="655.1" y1="2129.2" x2="857.7" y2="2218.0" stroke="#30a9d7"/>
<line x1="675.6" y1="2490.2" x2="716.1" y2="2380.4" stroke="#30a8da"/>
<line x1="1111.9" y1="2026.5" x2="1131.3" y2="2083.4" stroke="#30a8de"/>
<line x1="1124.8" y1="2376.1" x2="1029.2" y2="2308.9" stroke="#30a7df"/>
<line x1="815.1" y1="2222.7" x2="884.8" y2="2284.4" stroke="#2fa4e2"/>
<line x1="1314.8" y1="2082.4" x2="1278.6" y2="2150.0" stroke="#2ea2e3"/>
<line x1="670.7" y1="2195.0" x2="837.0" y2="2274.2" stroke="#2ea1e4"/>
<line x1="742.1" y1="2282.3" x2="781.8" y2="2326.5" stroke="#2da0e5"/>
<line x1="780.4" y1="2109.5" x2="955.7" y2="2274.2" stroke="#2c9ee6"/>
<line x1="717.1" y1="2461.5" x2="724.1" y2="2397.3" stroke="#2f8cd7"/>
<line x1="1016.9" y1="2092.6" x2="1147.2" y2="2224.9" stroke="#2f89d5"/>
<line x1="1510.7" y1="2280.7" x2="1232.1" y2="2242.5" stroke="#3086d3"/>
<line x1="1389.1" y1="2370.6" x2="1236.5" y2="2324.6" stroke="#3980cc"/>
<line x1="746.3" y1="2404.1" x2="727.2" y2="2389.4" stroke="#417fca"/>
<line x1="1363.0" y1="2224.5" x2="1192.2" y2="2241.8" stroke="#4a7ec9"/>
<line x1="994.7" y1="2451.9" x2="966.4" y2="2340.5" stroke="#547dc7"/>
<line x1="1235.7" y1="2340.1" x2="1114.3" y2="2283.2" stroke="#5d7dc5"/>
<line x1="529.5" y1="2275.0" x2="562.4" y2="2310.5" stroke="#637cc4"/>
<line x1="987.3" y1="2375.4" x2="975.3" y2="2351.7" stroke="#697bc2"/>
<line x1="947.0" y1="2177.8" x2="1024.9" y2="2268.8" stroke="#6f7ac1"/>
<line x1="1034.9" y1="2479.7" x2="1004.7" y2="2408.4" stroke="#7479c0"/>
<line x1="1203.4" y1="2052.8" x2="1180.7" y2="2077.6" stroke="#7a79c0"/>
<line x1="1544.4" y1="2345.2" x2="1375.8" y2="2312.8" stroke="#7f78c0"/>
<line x1="1587.2" y1="2136.8" x2="1451.1" y2="2154.2" stroke="#8278c0"/>
<line x1="1196.6" y1="2173.9" x2="1158.1" y2="2221.1" stroke="#8677bf"/>
<line x1="584.6" y1="2493.4" x2="595.9" y2="2434.9" stroke="#8f74bc"/>
<line x1="1548.3" y1="2196.4" x2="1200.2" y2="2231.3" stroke="#9272ba"/>
<line x1="936.4" y1="2093.3" x2="1044.7" y2="2268.6" stroke="#9571b9"/>
<line x1="601.6" y1="2221.5" x2="894.4" y2="2298.1" stroke="#9c6fb7"/>
<line x1="780.1" y1="2432.1" x2="728.3" y2="2387.7" stroke="#a16db5"/>
<line x1="1390.4" y1="2283.9" x2="1315.0" y2="2268.0" stroke="#a46cb5"/>
<line x1="380.6" y1="2302.1" x2="543.9" y2="2385.5" stroke="#a66ab4"/>
<line x1="1312.3" y1="2197.5" x2="1272.2" y2="2203.6" stroke="#a969b3"/>
<line x1="1414.0" y1="2138.9" x2="1393.1" y2="2138.9" stroke="#b165b0"/>
<line x1="1424.6" y1="2223.4" x2="1307.0" y2="2224.9" stroke="#b364af"/>
<line x1="1439.6" y1="2083.4" x2="1366.9" y2="2120.4" stroke="#b663af"/>
<line x1="559.6" y1="2340.5" x2="584.8" y2="2358.4" stroke="#b861ae"/>
<line x1="1101.2" y1="2250.3" x2="1100.0" y2="2275.0" stroke="#c45ca6"/>
<line x1="659.1" y1="2252.4" x2="797.1" y2="2300.3" stroke="#c65ba5"/>
<line x1="939.7" y1="2139.9" x2="970.9" y2="2220.8" stroke="#c859a3"/>
<line x1="957.1" y1="2405.0" x2="951.1" y2="2323.9" stroke="#cf569e"/>
<line x1="1513.8" y1="1978.0" x2="1428.5" y2="1990.9" stroke="#d1569d"/>
<line x1="1162.1" y1="2403.0" x2="1064.3" y2="2346.2" stroke="#d6559b"/>
<line x1="517.6" y1="2302.4" x2="612.2" y2="2341.8" stroke="#d8549a"/>
<line x1="492.9" y1="2446.9" x2="543.9" y2="2389.3" stroke="#da5398"/>
<line x1="1059.8" y1="2232.9" x2="1063.4" y2="2267.0" stroke="#dd5397"/>
<line x1="909.6" y1="2252.4" x2="957.2" y2="2280.9" stroke="#df5296"/>
<line x1="1380.9" y1="2312.4" x2="1227.3" y2="2269.6" stroke="#e15295"/>
<line x1="1039.0" y1="2177.1" x2="1063.4" y2="2282.3" stroke="#e25292"/>
<line x1="819.9" y1="2281.3" x2="863.5" y2="2299.4" stroke="#e35390"/>
<line x1="1193.8" y1="2146.2" x2="1212.3" y2="2184.1" stroke="#e4548c"/>
<line x1="1437.3" y1="2167.0" x2="1379.7" y2="2166.9" stroke="#e4548a"/>
<line x1="1380.4" y1="1730.5" x2="1398.4" y2="1715.0" stroke="#e45488"/>
<line x1="1092.3" y1="2091.7" x2="1133.5" y2="2182.5" stroke="#e65483"/>
<line x1="892.9" y1="2168.4" x2="960.4" y2="2252.8" stroke="#e65580"/>
<line x1="527.6" y1="2246.0" x2="623.4" y2="2315.6" stroke="#e6577a"/>
<line x1="905.4" y1="2377.9" x2="901.0" y2="2312.8" stroke="#e65974"/>
<line x1="925.1" y1="2196.7" x2="959.7" y2="2252.1" stroke="#e65b6f"/>
<line x1="569.0" y1="2274.7" x2="667.0" y2="2321.0" stroke="#e75e6a"/>
<line x1="788.1" y1="2490.2" x2="729.5" y2="2404.6" stroke="#e76066"/>
<line x1="473.4" y1="2216.2" x2="668.0" y2="2267.8" stroke="#e86262"/></g>
<g font-size="18.30px" stroke-width="0.25" stroke-linejoin="round"><text x="270.0" y="2279.0" fill="#d75d57" stroke="#d75d57">Afghanistan</text>
<text x="1070.4" y="2200.8" fill="#d85f52" stroke="#d85f52">Albania</text>
<text x="959.7" y="2201.1" fill="#d8614d" stroke="#d8614d">Algeria</text>
<text x="1041.0" y="2169.8" fill="#d86248" stroke="#d86248">American Samoa</text>
<text x="1363.2" y="1824.4" fill="#d86443" stroke="#d86443">Andorra</text>
<text x="339.2" y="2251.9" fill="#d9673b" stroke="#d9673b">Angola</text>
<text x="1195.7" y="2230.4" fill="#da6a34" stroke="#da6a34">Antigua and Barbuda</text>
<text x="1079.3" y="2140.5" fill="#da6d2e" stroke="#da6d2e">Argentina</text>
<text x="1157.7" y="2352.4" fill="#d76f2c" stroke="#d76f2c">Armenia</text>
<text x="1310.8" y="1533.0" fill="#d4722b" stroke="#d4722b">Australia</text>
<text x="1337.6" y="1857.7" fill="#d3732a" stroke="#d3732a">Austria</text>
<text x="1194.4" y="2379.8" fill="#d27429" stroke="#d27429">Azerbaijan</text>
<text x="1325.5" y="2173.0" fill="#d07529" stroke="#d07529">Bahamas</text>
<text x="1322.3" y="2347.7" fill="#cf7628" stroke="#cf7628">Bahrain</text>
<text x="495.4" y="2166.2" fill="#ce7727" stroke="#ce7727">Bangladesh</text>
<text x="1189.3" y="2319.0" fill="#cd7827" stroke="#cd7827">Barbados</text>
<text x="1185.2" y="2076.4" fill="#cc7926" stroke="#cc7926">Belarus</text>
<text x="1380.2" y="1918.5" fill="#cb7a25" stroke="#cb7a25">Belgium</text>
<text x="925.9" y="2495.9" fill="#ca7b24" stroke="#ca7b24">Belize</text>
<text x="416.1" y="2365.9" fill="#c97c24" stroke="#c97c24">Benin</text>
<text x="1441.9" y="2117.2" fill="#c67e24" stroke="#c67e24">Bermuda</text>
<text x="623.4" y="2338.6" fill="#c37f24" stroke="#c37f24">Bhutan</text>
<text x="587.3" y="2258.0" fill="#c08124" stroke="#c08124">Bolivia (Plurinational State of)</text>
<text x="1360.8" y="2348.3" fill="#be8224" stroke="#be8224">Bosnia and Herzegovina</text>
<text x="1054.1" y="2469.7" fill="#bb8324" stroke="#bb8324">Botswana</text>
<text x="954.3" y="2315.0" fill="#b88524" stroke="#b88524">Brazil</text>
<text x="1578.7" y="2173.7" fill="#b58623" stroke="#b58623">Brunei Darussalam</text>
<text x="1383.5" y="2201.7" fill="#b38723" stroke="#b38723">Bulgaria</text>
<text x="160.4" y="2368.5" fill="#b08822" stroke="#b08822">Burkina Faso</text>
<text x="298.2" y="2480.7" fill="#ad8922" stroke="#ad8922">Burundi</text>
<text x="482.0" y="2196.5" fill="#ab8a21" stroke="#ab8a21">Cabo Verde</text>
<text x="620.5" y="2397.3" fill="#a88b21" stroke="#a88b21">Cambodia</text>
<text x="672.1" y="2370.9" fill="#a58c20" stroke="#a58c20">Cameroon</text>
<text x="1436.8" y="1954.4" fill="#a38d20" stroke="#a38d20">Canada</text>
<text x="227.0" y="2424.9" fill="#a08e1f" stroke="#a08e1f">Central African Republic</text>
<text x="146.7" y="2396.8" fill="#9c8f20" stroke="#9c8f20">Chad</text>
<text x="1199.8" y="2112.4" fill="#988f20" stroke="#988f20">Chile</text>
<text x="1032.1" y="2115.6" fill="#949020" stroke="#949020">China</text>
<text x="1033.4" y="2386.8" fill="#909021" stroke="#909021">Colombia</text>
<text x="589.5" y="2477.7" fill="#8d9021" stroke="#8d9021">Comoros</text>
<text x="801.3" y="2314.7" fill="#899122" stroke="#899122">Congo</text>
<text x="1232.4" y="2140.5" fill="#859122" stroke="#859122">Cook Islands</text>
<text x="1290.4" y="2376.4" fill="#819222" stroke="#819222">Costa Rica</text>
<text x="1268.4" y="2107.7" fill="#7d9223" stroke="#7d9223">Croatia</text>
<text x="1133.8" y="2442.6" fill="#799223" stroke="#799223">Cuba</text>
<text x="1376.1" y="2013.5" fill="#759323" stroke="#759323">Cyprus</text>
<text x="1518.4" y="2145.0" fill="#729324" stroke="#729324">Czechia</text>
<text x="484.9" y="2365.5" fill="#6e9424" stroke="#6e9424">Côte d'Ivoire</text>
<text x="500.2" y="2170.9" fill="#6b9525" stroke="#6b9525">Democratic People's Republic of Korea</text>
<text x="247.1" y="2336.3" fill="#689625" stroke="#689625">Democratic Republic of the Congo</text>
<text x="1423.2" y="1663.2" fill="#659725" stroke="#659725">Denmark</text>
<text x="646.9" y="2450.6" fill="#629726" stroke="#629726">Djibouti</text>
<text x="1465.5" y="2201.7" fill="#5f9826" stroke="#5f9826">Dominica</text>
<text x="837.0" y="2286.0" fill="#5c9927" stroke="#5c9927">Dominican Republic</text>
<text x="788.5" y="2087.4" fill="#589a27" stroke="#589a27">Ecuador</text>
<text x="897.8" y="2450.6" fill="#559a27" stroke="#559a27">Egypt</text>
<text x="797.4" y="2366.1" fill="#529b28" stroke="#529b28">El Salvador</text>
<text x="782.8" y="2116.1" fill="#4f9c29" stroke="#4f9c29">Equatorial Guinea</text>
<text x="461.7" y="2392.2" fill="#4c9b2a" stroke="#4c9b2a">Eritrea</text>
<text x="1317.8" y="1951.5" fill="#499b2c" stroke="#499b2c">Estonia</text>
<text x="850.7" y="2335.5" fill="#469b2d" stroke="#469b2d">Eswatini</text>
<text x="390.6" y="2491.2" fill="#429a2f" stroke="#429a2f">Ethiopia</text>
<text x="1062.1" y="2327.2" fill="#3f9a30" stroke="#3f9a30">Fiji</text>
<text x="1325.2" y="1719.8" fill="#3c9a32" stroke="#3c9a32">Finland</text>
<text x="1295.5" y="1912.3" fill="#399934" stroke="#399934">France</text>
<text x="771.0" y="2143.8" fill="#369935" stroke="#369935">Gabon</text>
<text x="508.9" y="2420.3" fill="#339937" stroke="#339937">Gambia</text>
<text x="1283.4" y="2320.4" fill="#309938" stroke="#309938">Georgia</text>
<text x="1469.0" y="1838.0" fill="#2c983a" stroke="#2c983a">Germany</text>
<text x="830.2" y="2421.2" fill="#29983b" stroke="#29983b">Ghana</text>
<text x="1261.7" y="2047.7" fill="#26983d" stroke="#26983d">Greece</text>
<text x="1342.7" y="2111.5" fill="#23973f" stroke="#23973f">Greenland</text>
<text x="938.4" y="2117.2" fill="#239741" stroke="#239741">Grenada</text>
<text x="1353.2" y="2141.8" fill="#229744" stroke="#229744">Guam</text>
<text x="665.8" y="2142.5" fill="#229746" stroke="#229746">Guatemala</text>
<text x="184.9" y="2339.4" fill="#219749" stroke="#219749">Guinea</text>
<text x="302.0" y="2397.8" fill="#20974b" stroke="#20974b">Guinea<tspan dx="2.30">-</tspan><tspan dx="2.30">Bissau</tspan></text>
<text x="986.2" y="2358.7" fill="#20974e" stroke="#20974e">Guyana</text>
<text x="618.9" y="2367.7" fill="#1f9750" stroke="#1f9750">Haiti</text>
<text x="622.4" y="2229.9" fill="#1e9753" stroke="#1e9753">Honduras</text>
<text x="1468.7" y="2259.1" fill="#1e9755" stroke="#1e9755">Hungary</text>
<text x="1437.6" y="1697.1" fill="#1d9758" stroke="#1d9758">Iceland</text>
<text x="871.7" y="2506.4" fill="#1d975a" stroke="#1d975a">India</text>
<text x="1018.4" y="2442.0" fill="#1c975d" stroke="#1c975d">Indonesia</text>
<text x="912.8" y="2145.3" fill="#1b975f" stroke="#1b975f">Iran (Islamic Republic of)</text>
<text x="1098.7" y="2414.5" fill="#1b9762" stroke="#1b9762">Iraq</text>
<text x="1366.6" y="1691.3" fill="#1c9765" stroke="#1c9765">Ireland</text>
<text x="1243.4" y="1963.5" fill="#1c9769" stroke="#1c9769">Israel</text>
<text x="1317.0" y="2019.7" fill="#1d976c" stroke="#1d976c">Italy</text>
<text x="1074.8" y="2354.9" fill="#1e9770" stroke="#1e9770">Jamaica</text>
<text x="1511.1" y="2230.4" fill="#1f9773" stroke="#1f9773">Japan</text>
<text x="1252.1" y="2407.3" fill="#209777" stroke="#209777">Jordan</text>
<text x="1064.0" y="2058.9" fill="#21977a" stroke="#21977a">Kazakhstan</text>
<text x="729.5" y="2534.1" fill="#22977e" stroke="#22977e">Kenya</text>
<text x="775.1" y="2394.1" fill="#239781" stroke="#239781">Kiribati</text>
<text x="1401.1" y="2263.0" fill="#239785" stroke="#239785">Kuwait</text>
<text x="686.2" y="2199.9" fill="#24988a" stroke="#24988a">Kyrgyzstan</text>
<text x="468.3" y="2307.1" fill="#26998f" stroke="#26998f">Lao People's Democratic Republic</text>
<text x="1379.7" y="2082.2" fill="#279a94" stroke="#279a94">Latvia</text>
<text x="1145.3" y="2205.9" fill="#289b99" stroke="#289b99">Lebanon</text>
<text x="822.0" y="2477.7" fill="#299c9e" stroke="#299c9e">Lesotho</text>
<text x="376.9" y="2453.6" fill="#2a9da3" stroke="#2a9da3">Liberia</text>
<text x="1141.5" y="2112.4" fill="#2b9da8" stroke="#2b9da8">Libya</text>
<text x="1381.0" y="2043.7" fill="#2c9ead" stroke="#2c9ead">Lithuania</text>
<text x="1476.9" y="1778.9" fill="#2c9eb0" stroke="#2c9eb0">Luxembourg</text>
<text x="464.9" y="2482.5" fill="#2c9eb4" stroke="#2c9eb4">Madagascar</text>
<text x="351.4" y="2519.0" fill="#2c9eb7" stroke="#2c9eb7">Malawi</text>
<text x="1234.9" y="2291.7" fill="#2c9dba" stroke="#2c9dba">Malaysia</text>
<text x="953.3" y="2245.7" fill="#2c9dbd" stroke="#2c9dbd">Maldives</text>
<text x="182.7" y="2425.9" fill="#2c9dc0" stroke="#2c9dc0">Mali</text>
<text x="1235.1" y="1934.2" fill="#2c9dc4" stroke="#2c9dc4">Malta</text>
<text x="519.3" y="2134.9" fill="#2c9cc7" stroke="#2c9cc7">Marshall Islands</text>
<text x="631.6" y="2506.4" fill="#2c9cca" stroke="#2c9cca">Mauritania</text>
<text x="1034.0" y="2030.9" fill="#2c9ccd" stroke="#2c9ccd">Mauritius</text>
<text x="1128.4" y="2383.0" fill="#2c9bcf" stroke="#2c9bcf">Mexico</text>
<text x="683.9" y="2254.8" fill="#2c9ad0" stroke="#2c9ad0">Micronesia (Federated States of)</text>
<text x="1511.2" y="1721.1" fill="#2c99d1" stroke="#2c99d1">Monaco</text>
<text x="737.2" y="2227.7" fill="#2b98d2" stroke="#2b98d2">Mongolia</text>
<text x="1268.4" y="2078.3" fill="#2b97d3" stroke="#2b97d3">Montenegro</text>
<text x="596.9" y="2200.6" fill="#2b96d4" stroke="#2b96d4">Morocco</text>
<text x="281.6" y="2368.5" fill="#2a95d4" stroke="#2a95d4">Mozambique</text>
<text x="662.3" y="2286.7" fill="#2a94d4" stroke="#2a94d4">Myanmar</text>
<text x="902.6" y="2363.5" fill="#2a93d5" stroke="#2a93d5">Namibia</text>
<text x="727.0" y="2115.1" fill="#2992d5" stroke="#2992d5">Nauru</text>
<text x="558.3" y="2393.2" fill="#2992d5" stroke="#2992d5">Nepal</text>
<text x="1465.3" y="2016.4" fill="#2891d5" stroke="#2891d5">Netherlands</text>
<text x="1367.4" y="1886.2" fill="#288fd5" stroke="#288fd5">New Zealand</text>
<text x="700.5" y="2314.7" fill="#298acf" stroke="#298acf">Nicaragua</text>
<text x="688.1" y="2477.7" fill="#2b81c7" stroke="#2b81c7">Nigeria</text>
<text x="997.0" y="2088.5" fill="#2c7fc5" stroke="#2c7fc5">Niue</text>
<text x="1514.3" y="2286.9" fill="#2d7cc4" stroke="#2d7cc4">North Macedonia</text>
<text x="1235.5" y="2259.8" fill="#2f7bc1" stroke="#2f7bc1">Northern Mariana Islands</text>
<text x="1501.7" y="1635.1" fill="#3279bf" stroke="#3279bf">Norway</text>
<text x="1392.7" y="2377.0" fill="#3577bd" stroke="#3577bd">Oman</text>
<text x="728.9" y="2420.3" fill="#3c76bc" stroke="#3c76bc">Pakistan</text>
<text x="1366.6" y="2230.4" fill="#4575ba" stroke="#4575ba">Palau</text>
<text x="957.5" y="2468.1" fill="#4e74b8" stroke="#4e74b8">Palestine</text>
<text x="1239.3" y="2346.7" fill="#5673b7" stroke="#5673b7">Panama</text>
<text x="367.2" y="2279.0" fill="#5c73b6" stroke="#5c73b6">Papua New Guinea</text>
<text x="948.9" y="2391.6" fill="#6172b4" stroke="#6172b4">Paraguay</text>
<text x="926.2" y="2173.7" fill="#6771b3" stroke="#6771b3">Peru</text>
<text x="991.9" y="2495.9" fill="#6c70b2" stroke="#6c70b2">Philippines</text>
<text x="1323.2" y="2290.4" fill="#6e70b2" stroke="#6e70b2">Poland</text>
<text x="1175.0" y="2048.7" fill="#7170b2" stroke="#7170b2">Portugal</text>
<text x="1226.9" y="1884.2" fill="#7470b2" stroke="#7470b2">Puerto Rico</text>
<text x="1548.0" y="2351.5" fill="#766fb2" stroke="#766fb2">Qatar</text>
<text x="1590.8" y="2142.7" fill="#796fb2" stroke="#796fb2">Republic of Korea</text>
<text x="1120.8" y="2169.8" fill="#7c6eb1" stroke="#7c6eb1">Republic of Moldova</text>
<text x="1236.5" y="2181.6" fill="#7f6db0" stroke="#7f6db0">Romania</text>
<text x="1131.0" y="2000.3" fill="#826caf" stroke="#826caf">Russian Federation</text>
<text x="551.0" y="2509.6" fill="#856bae" stroke="#856bae">Rwanda</text>
<text x="1551.9" y="2202.4" fill="#886aad" stroke="#886aad">Saint Kitts and Nevis</text>
<text x="888.6" y="2089.2" fill="#8b69ac" stroke="#8b69ac">Saint Lucia</text>
<text x="794.0" y="2228.3" fill="#8d68ab" stroke="#8d68ab">Saint Vincent and the Grenadines</text>
<text x="540.1" y="2227.4" fill="#9067aa" stroke="#9067aa">Samoa</text>
<text x="1462.4" y="1807.8" fill="#9366a9" stroke="#9366a9">San Marino</text>
<text x="714.5" y="2448.3" fill="#9665a8" stroke="#9665a8">Sao Tome and Principe</text>
<text x="1394.0" y="2290.4" fill="#9864a7" stroke="#9864a7">Saudi Arabia</text>
<text x="309.8" y="2307.7" fill="#9a63a7" stroke="#9a63a7">Senegal</text>
<text x="1315.9" y="2203.3" fill="#9d61a6" stroke="#9d61a6">Serbia</text>
<text x="1129.4" y="2283.7" fill="#9f60a5" stroke="#9f60a5">Seychelles</text>
<text x="397.0" y="2424.9" fill="#a15fa4" stroke="#a15fa4">Sierra Leone</text>
<text x="1417.6" y="2145.0" fill="#a45ea3" stroke="#a45ea3">Singapore</text>
<text x="1428.2" y="2229.5" fill="#a65da3" stroke="#a65da3">Slovakia</text>
<text x="1443.2" y="2088.5" fill="#a85ca2" stroke="#a85ca2">Slovenia</text>
<text x="449.2" y="2336.4" fill="#ab5aa1" stroke="#ab5aa1">Solomon Islands</text>
<text x="1014.6" y="2291.7" fill="#af589f" stroke="#af589f">South Africa</text>
<text x="183.4" y="2453.6" fill="#b1579d" stroke="#b1579d">South Sudan</text>
<text x="1181.4" y="1968.9" fill="#b3569c" stroke="#b3569c">Spain</text>
<text x="1104.8" y="2252.8" fill="#b6559a" stroke="#b6559a">Sri Lanka</text>
<text x="602.6" y="2258.0" fill="#b85499" stroke="#b85499">Sudan</text>
<text x="857.7" y="2144.8" fill="#ba5397" stroke="#ba5397">Suriname</text>
<text x="1451.3" y="1750.0" fill="#bc5295" stroke="#bc5295">Sweden</text>
<text x="1516.6" y="1685.1" fill="#be5194" stroke="#be5194">Switzerland</text>
<text x="871.7" y="2421.2" fill="#c05093" stroke="#c05093">Syrian Arab Republic</text>
<text x="1517.4" y="1983.8" fill="#c24f91" stroke="#c24f91">Taiwan (Province of China)</text>
<text x="754.3" y="2361.9" fill="#c44f90" stroke="#c44f90">Tajikistan</text>
<text x="1165.7" y="2409.8" fill="#c64e8f" stroke="#c64e8f">Thailand</text>
<text x="412.5" y="2307.7" fill="#c84e8e" stroke="#c84e8e">Timor<tspan dx="2.30">-</tspan><tspan dx="2.30">Leste</tspan></text>
<text x="449.6" y="2454.2" fill="#cb4d8d" stroke="#cb4d8d">Togo</text>
<text x="1028.3" y="2228.8" fill="#cd4d8c" stroke="#cd4d8c">Tokelau</text>
<text x="856.1" y="2257.0" fill="#cf4c8b" stroke="#cf4c8b">Tonga</text>
<text x="1384.5" y="2318.8" fill="#d14c8a" stroke="#d14c8a">Trinidad and Tobago</text>
<text x="1033.7" y="2257.5" fill="#d14c89" stroke="#d14c89">Tunisia</text>
<text x="983.6" y="2173.0" fill="#d24c87" stroke="#d24c87">Turkmenistan</text>
<text x="762.1" y="2286.0" fill="#d24d86" stroke="#d24d86">Tuvalu</text>
<text x="1117.9" y="2324.6" fill="#d24d84" stroke="#d24d84">Türkiye</text>
<text x="509.8" y="2453.8" fill="#d34d83" stroke="#d34d83">Uganda</text>
<text x="1161.2" y="2142.1" fill="#d34e81" stroke="#d34e81">Ukraine</text>
<text x="1440.9" y="2173.0" fill="#d34e80" stroke="#d34e80">United Arab Emirates</text>
<text x="1305.4" y="1746.7" fill="#d44e7f" stroke="#d44e7f">United Kingdom</text>
<text x="494.5" y="2423.5" fill="#d44e7d" stroke="#d44e7d">United Republic of Tanzania</text>
<text x="1301.3" y="1982.5" fill="#d54e7c" stroke="#d54e7c">United States Virgin Islands</text>
<text x="1193.0" y="1796.3" fill="#d54e7a" stroke="#d54e7a">United States of America</text>
<text x="1056.0" y="2087.6" fill="#d54e79" stroke="#d54e79">Uruguay</text>
<text x="798.7" y="2173.5" fill="#d64f76" stroke="#d64f76">Uzbekistan</text>
<text x="457.1" y="2251.3" fill="#d65171" stroke="#d65171">Vanuatu</text>
<text x="765.5" y="2394.1" fill="#d6536c" stroke="#d6536c">Venezuela (Bolivarian Republic of)</text>
<text x="846.6" y="2201.2" fill="#d65467" stroke="#d65467">Viet Nam</text>
<text x="509.1" y="2280.0" fill="#d65763" stroke="#d65763">Yemen</text>
<text x="760.1" y="2506.4" fill="#d6595f" stroke="#d6595f">Zambia</text>
<text x="385.4" y="2222.0" fill="#d75b5b" stroke="#d75b5b">Zimbabwe</text></g>
<g stroke="#000" stroke-width="2.15" fill="none">
<path d="M73.4 1460.3 V2556.0 H1741.6"/>
<path d="M149.2 2556.0 v6.0"/>
<path d="M338.8 2556.0 v6.0"/>
<path d="M528.4 2556.0 v6.0"/>
<path d="M718.0 2556.0 v6.0"/>
<path d="M907.6 2556.0 v6.0"/>
<path d="M1097.2 2556.0 v6.0"/>
<path d="M1286.8 2556.0 v6.0"/>
<path d="M1476.4 2556.0 v6.0"/>
<path d="M1666.0 2556.0 v6.0"/>
<path d="M73.4 2430.4 h-6.0"/>
<path d="M73.4 2140.7 h-6.0"/>
<path d="M73.4 1850.9 h-6.0"/>
<path d="M73.4 1561.2 h-6.0"/>
</g>
<g font-size="17.60px" fill="#000">
<text x="149.2" y="2578.8" text-anchor="middle">0.2</text>
<text x="338.8" y="2578.8" text-anchor="middle">0.3</text>
<text x="528.4" y="2578.8" text-anchor="middle">0.4</text>
<text x="718.0" y="2578.8" text-anchor="middle">0.5</text>
<text x="907.6" y="2578.8" text-anchor="middle">0.6</text>
<text x="1097.2" y="2578.8" text-anchor="middle">0.7</text>
<text x="1286.8" y="2578.8" text-anchor="middle">0.8</text>
<text x="1476.4" y="2578.8" text-anchor="middle">0.9</text>
<text x="1666.0" y="2578.8" text-anchor="middle">1.0</text>
<text x="63.5" y="2436.7" text-anchor="end">50</text>
<text x="63.5" y="2146.9" text-anchor="end">100</text>
<text x="63.5" y="1857.2" text-anchor="end">150</text>
<text x="63.5" y="1567.4" text-anchor="end">200</text>
</g>
<text x="905.0" y="2604.4" text-anchor="middle" font-size="22.10px" fill="#000">SDI</text>
<text transform="translate(22.0 2006.5) rotate(-90)" text-anchor="middle" font-size="22.10px" fill="#000">Incidence Rate per 100,000 population</text>
<text x="895.0" y="1319.3" text-anchor="middle" font-family="'Liberation Serif', serif" font-weight="bold" font-size="47.60px" fill="#000">Other drug</text>
</g>
</svg></body></html>
